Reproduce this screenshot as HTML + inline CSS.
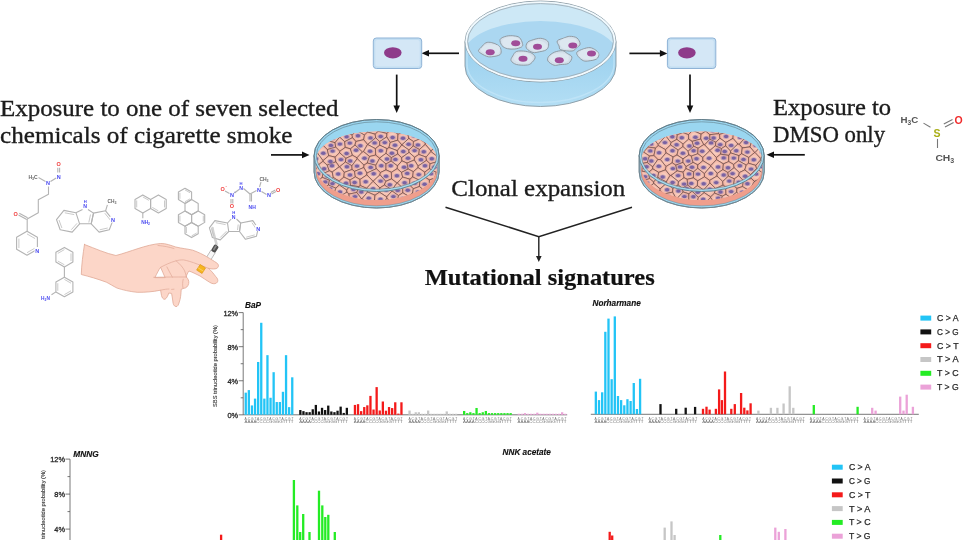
<!DOCTYPE html>
<html><head><meta charset="utf-8"><style>
html,body{margin:0;padding:0;background:#fff;width:964px;height:540px;overflow:hidden}
svg{display:block;position:absolute;left:0;top:0;will-change:transform}
</style></head><body>
<svg width="964" height="540" viewBox="0 0 964 540">
<rect width="964" height="540" fill="#ffffff"/>
<defs>
<marker id="ah" markerWidth="8" markerHeight="8" refX="7" refY="4" orient="auto" markerUnits="userSpaceOnUse"><path d="M0,0.6 L7.5,4 L0,7.4 Z" fill="#111"/></marker>
<marker id="ahs" markerWidth="6" markerHeight="6" refX="5" refY="3" orient="auto" markerUnits="userSpaceOnUse"><path d="M0,0.5 L5.5,3 L0,5.5 Z" fill="#222"/></marker>
</defs>
<line x1="459" y1="53.3" x2="428.5" y2="53.3" stroke="#111" stroke-width="1.7"/>
<path d="M421.5,53.3 L429,50 L429,56.6 Z" fill="#111"/>
<line x1="629.4" y1="53.4" x2="660.4" y2="53.4" stroke="#111" stroke-width="1.7"/>
<path d="M667.4,53.4 L659.9,56.7 L659.9,50.1 Z" fill="#111"/>
<line x1="396.7" y1="74.6" x2="396.7" y2="106" stroke="#111" stroke-width="1.7"/>
<path d="M396.7,113 L393.4,105.5 L400,105.5 Z" fill="#111"/>
<line x1="690" y1="74.6" x2="690" y2="106" stroke="#111" stroke-width="1.7"/>
<path d="M690,113 L686.7,105.5 L693.3,105.5 Z" fill="#111"/>
<line x1="271" y1="154.9" x2="302.5" y2="154.9" stroke="#111" stroke-width="1.7"/>
<path d="M309.5,154.9 L302,158.2 L302,151.6 Z" fill="#111"/>
<line x1="804.8" y1="154.8" x2="773.5" y2="154.8" stroke="#111" stroke-width="1.7"/>
<path d="M766.5,154.8 L774,151.5 L774,158.1 Z" fill="#111"/>
<polyline points="445.5,207.2 538.8,236.6 632,207.2" fill="none" stroke="#222" stroke-width="1.5"/>
<line x1="538.8" y1="236.6" x2="538.8" y2="256.5" stroke="#222" stroke-width="1.4"/>
<path d="M538.8,262 L536,256 L541.6,256 Z" fill="#222"/>
<rect x="373.3" y="38" width="48.4" height="30.5" rx="3" fill="#c3def2" stroke="#8fb3d6" stroke-width="1"/>
<rect x="375.3" y="40" width="44.4" height="26.5" rx="2" fill="#d4e7f6"/>
<ellipse cx="392.8" cy="52.8" rx="8.8" ry="5.6" fill="#8e3b8a"/>
<rect x="667.4" y="38" width="48.4" height="30.5" rx="3" fill="#c3def2" stroke="#8fb3d6" stroke-width="1"/>
<rect x="669.4" y="40" width="44.4" height="26.5" rx="2" fill="#d4e7f6"/>
<ellipse cx="686.9" cy="52.8" rx="8.8" ry="5.6" fill="#8e3b8a"/>
<linearGradient id="tdb" x1="0" y1="0" x2="0" y2="1"><stop offset="0" stop-color="#98cfee"/><stop offset="1" stop-color="#b3def4"/></linearGradient>
<path d="M465,41.5 L465,66 A75.5,40.5 0 0 0 616,66 L616,41.5 Z" fill="url(#tdb)" stroke="#8a98a2" stroke-width="0.9"/>
<path d="M467,47.5 L467,64 A73.5,38.5 0 0 0 614,64 L614,47.5" fill="none" stroke="#c2e5f7" stroke-width="1.4" opacity="0.8"/>
<ellipse cx="540.5" cy="41.5" rx="75.5" ry="40.5" fill="#cde8f6"/>
<clipPath id="tdc"><ellipse cx="540.5" cy="41.5" rx="73" ry="38"/></clipPath>
<ellipse cx="540.5" cy="55.5" rx="77.5" ry="34.5" fill="#abd7f1" clip-path="url(#tdc)"/>
<ellipse cx="540.5" cy="41.5" rx="75.5" ry="40.5" fill="none" stroke="#8a98a2" stroke-width="0.9"/>
<ellipse cx="540.5" cy="41.5" rx="74.2" ry="39.2" fill="none" stroke="#f4fafd" stroke-width="1.6"/>
<ellipse cx="540.5" cy="41.5" rx="72.9" ry="37.9" fill="none" stroke="#9aa7b0" stroke-width="0.8"/>
<path d="M500.9,49.2 C501.3,50.8 501.5,53.2 500.2,54.5 C498.9,55.7 495.3,56.3 493.1,56.6 C490.8,56.9 489,57.2 486.6,56.3 C484.2,55.4 479.5,52.9 478.6,51.4 C477.7,49.9 480.1,48.7 481.3,47.2 C482.5,45.8 484.1,43.6 485.9,42.8 C487.6,42 489.7,42.2 491.7,42.6 C493.7,43 496.2,44 497.8,45.1 C499.3,46.2 500.5,47.6 500.9,49.2Z" fill="#d3dfea" stroke="#8a949c" stroke-width="0.9"/>
<path d="M499.9,49.5 C499.7,50.8 499.2,52.8 498,53.7 C496.8,54.6 494.6,54.7 492.8,54.8 C491.1,54.9 489.2,54.9 487.3,54.3 C485.4,53.8 482.4,52.3 481.4,51.3 C480.5,50.4 480.8,49.7 481.5,48.7 C482.1,47.6 483.5,45.7 485.5,45 C487.4,44.4 490.9,44.4 493.1,44.6 C495.3,44.8 497.7,45.4 498.8,46.2 C499.9,47 500,48.3 499.9,49.5Z" fill="#dde7f0" stroke="none"/>
<ellipse cx="490.2" cy="52.3" rx="4.5" ry="3" fill="#a04c98"/>
<path d="M522.5,43.5 C522.9,45 522.9,45.9 521.6,46.9 C520.4,47.8 517.3,48.7 514.9,49 C512.6,49.3 509.5,49.2 507.4,48.7 C505.2,48.1 503.1,47.1 501.9,45.6 C500.7,44 499.4,40.8 500.2,39.3 C501,37.7 504.4,36.6 506.7,36.1 C509,35.5 511.8,35.6 513.9,35.9 C516,36.1 518.1,36.3 519.5,37.6 C520.9,38.8 522.2,41.9 522.5,43.5Z" fill="#d3dfea" stroke="#8a949c" stroke-width="0.9"/>
<path d="M520.5,42.8 C520.7,44 521.2,44.6 520.1,45.4 C519,46.2 516.3,47.5 513.9,47.8 C511.5,48.1 507.7,47.8 505.9,47.2 C504,46.6 503.4,45.6 502.9,44.4 C502.3,43.2 501.9,41.3 502.6,40.1 C503.2,39 505.1,38.1 507,37.6 C508.8,37 511.8,36.7 513.8,36.9 C515.8,37.1 517.8,37.8 518.9,38.8 C520,39.7 520.3,41.7 520.5,42.8Z" fill="#dde7f0" stroke="none"/>
<ellipse cx="515.7" cy="43.2" rx="4.5" ry="3" fill="#a04c98"/>
<path d="M548.4,46.5 C548.1,48 547.3,49.2 545.8,50.1 C544.3,51 541.5,51.4 539.4,51.8 C537.3,52.2 535.1,53.1 533,52.5 C530.8,51.9 527.4,49.8 526.4,48.2 C525.5,46.5 526.3,44.1 527.2,42.8 C528.1,41.5 529.6,40.9 531.8,40.2 C534.1,39.4 538.1,38.1 540.7,38.3 C543.4,38.5 546.4,39.8 547.6,41.1 C548.9,42.5 548.8,45 548.4,46.5Z" fill="#d3dfea" stroke="#8a949c" stroke-width="0.9"/>
<path d="M547.4,45.8 C547.7,46.9 547,47.9 545.7,48.7 C544.4,49.6 541.7,50.4 539.6,50.7 C537.5,51 535,51 533.1,50.4 C531.2,49.8 529,48.2 528.2,47.2 C527.5,46.2 527.8,45.2 528.7,44.1 C529.6,43.1 532,41.5 533.7,40.9 C535.4,40.3 537.2,40.5 538.9,40.7 C540.6,40.9 542.6,41.3 544,42.2 C545.4,43.1 547.1,44.8 547.4,45.8Z" fill="#dde7f0" stroke="none"/>
<ellipse cx="537.5" cy="46.7" rx="4.5" ry="3" fill="#a04c98"/>
<path d="M535.1,57.8 C534.9,59.4 532.4,62.2 530.9,63.5 C529.4,64.7 528.3,65 525.9,65.1 C523.5,65.3 518.9,65.2 516.4,64.5 C513.9,63.7 511.7,62.1 511.1,60.7 C510.5,59.2 511.7,57.5 512.7,56 C513.6,54.4 514.5,52.2 516.7,51.4 C518.9,50.6 523.2,51 525.7,51.3 C528.3,51.7 530.6,52.4 532.1,53.4 C533.7,54.5 535.3,56.1 535.1,57.8Z" fill="#d3dfea" stroke="#8a949c" stroke-width="0.9"/>
<path d="M532.7,58 C532.6,59.3 531.4,61.5 529.9,62.3 C528.4,63.2 525.6,63 523.7,63.1 C521.7,63.1 519.8,63.2 518.2,62.5 C516.5,61.9 514.5,60.4 513.9,59.2 C513.4,58.1 514.2,56.8 514.8,55.8 C515.5,54.8 515.9,53.8 517.6,53.2 C519.3,52.7 523,52.3 525.1,52.6 C527.1,52.8 528.8,54 530.1,54.9 C531.4,55.8 532.7,56.8 532.7,58Z" fill="#dde7f0" stroke="none"/>
<ellipse cx="523" cy="58.7" rx="4.5" ry="3" fill="#a04c98"/>
<path d="M580.1,44 C580.1,45.7 578,46.6 576.6,47.7 C575.3,48.9 574.8,50.7 572.1,51 C569.5,51.4 562.9,50.6 560.8,49.7 C558.6,48.9 559.7,47.4 559.1,46 C558.5,44.5 556.5,42.3 557.2,41 C558,39.6 561.8,38.8 563.9,38.1 C565.9,37.3 567.6,36.3 569.7,36.3 C571.9,36.3 575.3,36.7 577,38 C578.7,39.3 580.2,42.4 580.1,44Z" fill="#d3dfea" stroke="#8a949c" stroke-width="0.9"/>
<path d="M577.7,44.3 C578,45.5 578.7,45.9 577.3,46.7 C576,47.4 571.8,48.5 569.5,48.8 C567.2,49.1 565.1,49.1 563.5,48.5 C562,48 561,46.6 560.4,45.5 C559.8,44.3 559.4,42.8 560,41.7 C560.6,40.5 562.3,39.1 563.9,38.5 C565.6,38 567.9,38.4 569.8,38.6 C571.7,38.7 574.1,38.5 575.4,39.5 C576.7,40.4 577.4,43.1 577.7,44.3Z" fill="#dde7f0" stroke="none"/>
<ellipse cx="572.8" cy="45.6" rx="4.5" ry="3" fill="#a04c98"/>
<path d="M571.9,57.1 C572.1,58.8 570.4,62.2 568.5,63.4 C566.5,64.6 562.6,64.3 560.2,64.6 C557.7,64.9 556,65.8 554,65.2 C552,64.6 548.9,62.6 548,61.1 C547.1,59.6 547.6,57.9 548.7,56.4 C549.8,55 552.1,53.2 554.4,52.2 C556.7,51.3 560.3,50.5 562.4,50.7 C564.6,50.9 565.7,52.5 567.3,53.5 C568.9,54.6 571.8,55.5 571.9,57.1Z" fill="#d3dfea" stroke="#8a949c" stroke-width="0.9"/>
<path d="M568.7,57.4 C568.7,58.4 568.9,60 567.5,61 C566.1,62 562.7,63.1 560.4,63.4 C558.2,63.7 555.9,63.4 554.2,62.7 C552.4,62 550.4,60.4 549.9,59.3 C549.4,58.2 550.2,56.7 550.9,55.8 C551.6,54.9 552.1,54.4 553.9,54 C555.7,53.6 559.4,53.1 561.7,53.2 C564,53.3 566.5,54.1 567.6,54.8 C568.8,55.5 568.7,56.3 568.7,57.4Z" fill="#dde7f0" stroke="none"/>
<ellipse cx="559.3" cy="60.2" rx="4.5" ry="3" fill="#a04c98"/>
<path d="M598.8,54.5 C598.9,55.9 598.2,57.9 596.6,59 C594.9,60 591.1,60.6 588.9,60.9 C586.7,61.2 585.1,61.4 583.4,60.7 C581.6,60 579.4,58 578.3,56.6 C577.2,55.2 576.1,53.4 576.9,52.2 C577.7,50.9 580.9,49.8 583.1,49 C585.3,48.2 587.8,47.4 590,47.6 C592.1,47.8 594.5,49.2 596,50.3 C597.5,51.5 598.7,53 598.8,54.5Z" fill="#d3dfea" stroke="#8a949c" stroke-width="0.9"/>
<path d="M598.6,54 C598.6,55.3 596.9,57.6 595.4,58.5 C593.8,59.5 591.3,59.6 589.2,59.6 C587.1,59.6 584.3,59.1 582.6,58.5 C580.9,57.9 579.6,57.1 579.1,56.1 C578.6,55.1 578.9,53.8 579.6,52.7 C580.2,51.7 581.3,50.4 583,49.8 C584.6,49.3 587.3,49.1 589.3,49.3 C591.4,49.4 593.6,50.1 595.2,50.9 C596.7,51.7 598.5,52.7 598.6,54Z" fill="#dde7f0" stroke="none"/>
<ellipse cx="591.5" cy="53.5" rx="4.5" ry="3" fill="#a04c98"/>
<radialGradient id="cg3" cx="0.5" cy="0.5" r="0.6"><stop offset="0.3" stop-color="#f9cdbd"/><stop offset="1" stop-color="#eea493"/></radialGradient>
<path d="M314.1,155.5 L314.1,172 A62.5,36 0 0 0 439.1,172 L439.1,155.5 Z" fill="#9ad6ef" stroke="#6f8590" stroke-width="0.9"/>
<path d="M315.7,155.5 L315.7,171.5 A60.9,34.4 0 0 0 437.5,171.5 L437.5,155.5 Z" fill="#ef9e8c" stroke="#6f8590" stroke-width="0.5"/>
<ellipse cx="376.6" cy="155.5" rx="62.5" ry="36" fill="#9ad6f0" stroke="#6f8590" stroke-width="0.9"/>
<clipPath id="ld3"><path d="M316.6,158.5 A60,27 0 0 1 436.6,158.5 L437.1,166.5 A60.5,33.5 0 0 1 316.1,166.5 Z"/></clipPath>
<g clip-path="url(#ld3)">
<rect x="314.1" y="119.5" width="125" height="92" fill="#f3b1a1"/>
<g fill="url(#cg3)" stroke="#5e4444" stroke-width="0.6" stroke-linejoin="round">
<path d="M323.6,129 L316.4,122.4 L317,119.8 L323.4,115.6 L329.6,122.1 L329.7,122.6Z"/>
<path d="M342.2,124 L335.3,127.7 L329.7,122.6 L329.6,122.1 L335.5,116.9 L342.6,117.8Z"/>
<path d="M345.8,127.4 L353.1,124.4 L351.1,118.3 L343.2,117.2 L342.6,117.8 L342.2,124Z"/>
<path d="M353.1,124.4 L356.1,126.1 L362.4,122.5 L362.9,119.3 L354.6,114.3 L351.1,118.3Z"/>
<path d="M373.6,118.2 L367.5,114.2 L362.9,119.3 L362.4,122.5 L367.3,127.1 L374.3,123.3Z"/>
<path d="M380.3,114.5 L373.6,118.2 L374.3,123.3 L377.8,125.7 L384.5,122.1 L384.7,119.6Z"/>
<path d="M384.7,119.6 L384.5,122.1 L390.9,129.2 L395.8,123 L395.6,119.1 L390.1,116.4Z"/>
<path d="M406.8,123.3 L407.4,119.6 L400.3,114.1 L395.6,119.1 L395.8,123 L404.4,125.3Z"/>
<path d="M414.5,128.2 L419.4,122.7 L419,120.3 L412,116.4 L407.4,119.6 L406.8,123.3Z"/>
<path d="M419,120.3 L424.2,114.2 L430.2,117.8 L429.9,122.2 L425.3,126.1 L419.4,122.7Z"/>
<path d="M429.9,122.2 L435.3,125.7 L440.5,122.1 L440.3,119.8 L435.7,114.9 L430.2,117.8Z"/>
<path d="M323.6,129 L316.4,122.4 L311.9,125.9 L311.6,129.5 L315.8,134.1 L323.4,130.7Z"/>
<path d="M335.3,127.7 L329.7,122.6 L323.6,129 L323.4,130.7 L327.2,135.5 L335.4,132.6Z"/>
<path d="M345.8,127.4 L345.8,131.6 L339.5,136.5 L335.4,132.6 L335.3,127.7 L342.2,124Z"/>
<path d="M352.2,135.2 L345.8,131.6 L345.8,127.4 L353.1,124.4 L356.1,126.1 L356.2,130.3Z"/>
<path d="M356.2,130.3 L356.1,126.1 L362.4,122.5 L367.3,127.1 L367.5,132.1 L364.5,135.1Z"/>
<path d="M375.2,134.2 L378.2,131.3 L377.8,125.7 L374.3,123.3 L367.3,127.1 L367.5,132.1Z"/>
<path d="M384.5,122.1 L390.9,129.2 L390.9,129.5 L387,133.5 L378.2,131.3 L377.8,125.7Z"/>
<path d="M404.4,125.3 L395.8,123 L390.9,129.2 L390.9,129.5 L398,134.2 L403.3,132.1Z"/>
<path d="M414.6,130.3 L408.2,135.4 L403.3,132.1 L404.4,125.3 L406.8,123.3 L414.5,128.2Z"/>
<path d="M414.6,130.3 L419.5,134.4 L425.8,129.8 L425.3,126.1 L419.4,122.7 L414.5,128.2Z"/>
<path d="M429.9,122.2 L425.3,126.1 L425.8,129.8 L430.4,133.1 L435,131.6 L435.3,125.7Z"/>
<path d="M440.5,122.1 L448.8,129 L441.8,135.1 L435,131.6 L435.3,125.7Z"/>
<path d="M323.4,130.7 L315.8,134.1 L315.2,138.2 L323.1,144.4 L326.5,140.5 L327.2,135.5Z"/>
<path d="M335.4,132.6 L327.2,135.5 L326.5,140.5 L335.1,142.7 L339.6,137.1 L339.5,136.5Z"/>
<path d="M352.5,137.7 L344.7,141.7 L339.6,137.1 L339.5,136.5 L345.8,131.6 L352.2,135.2Z"/>
<path d="M363.7,139.7 L364.5,135.1 L356.2,130.3 L352.2,135.2 L352.5,137.7 L355.9,141.5Z"/>
<path d="M363.7,139.7 L364.5,135.1 L367.5,132.1 L375.2,134.2 L375.7,137.8 L367.6,144.5 L367.5,144.5Z"/>
<path d="M375.7,137.8 L379.7,141.6 L386.7,136.9 L387,133.5 L378.2,131.3 L375.2,134.2Z"/>
<path d="M390.9,129.5 L398,134.2 L397.7,140.2 L390.2,142.5 L386.7,136.9 L387,133.5Z"/>
<path d="M408.2,135.4 L408.8,138.4 L401.8,144.9 L401.8,144.9 L397.7,140.2 L398,134.2 L403.3,132.1Z"/>
<path d="M414.6,130.3 L419.5,134.4 L419.8,138.9 L413.5,141.6 L408.8,138.4 L408.2,135.4Z"/>
<path d="M419.8,138.9 L425.3,143 L429.1,139.6 L430.4,133.1 L425.8,129.8 L419.5,134.4Z"/>
<path d="M430.4,133.1 L435,131.6 L441.8,135.1 L441.8,135.3 L435.7,141.3 L429.1,139.6Z"/>
<path d="M323.1,144.4 L315.2,138.2 L311.5,140.3 L311.7,148.6 L316.3,151.4 L323.1,145.4Z"/>
<path d="M335.1,142.7 L326.5,140.5 L323.1,144.4 L323.1,145.4 L327.3,149.6 L335.7,147.1Z"/>
<path d="M344.7,141.7 L339.6,137.1 L335.1,142.7 L335.7,147.1 L339.8,151.3 L345.3,147.4Z"/>
<path d="M355,145 L355.9,141.5 L352.5,137.7 L344.7,141.7 L345.3,147.4 L350.4,148.9Z"/>
<path d="M355,145 L355.9,141.5 L363.7,139.7 L367.5,144.5 L363.5,151.6 L362.4,152Z"/>
<path d="M367.6,144.5 L375.4,148.7 L379.8,145.2 L379.7,141.6 L375.7,137.8Z"/>
<path d="M379.7,141.6 L386.7,136.9 L390.2,142.5 L389,147.5 L387.1,148.7 L379.8,145.2Z"/>
<path d="M397.3,150.7 L401.8,144.9 L397.7,140.2 L390.2,142.5 L389,147.5Z"/>
<path d="M413.5,141.6 L413.2,146 L408.9,150 L401.8,144.9 L408.8,138.4Z"/>
<path d="M419.8,138.9 L425.3,143 L425.3,144.4 L419.4,149.5 L413.2,146 L413.5,141.6Z"/>
<path d="M425.3,143 L425.3,144.4 L430.9,150.9 L436.8,146.3 L435.7,141.3 L429.1,139.6Z"/>
<path d="M436.8,146.3 L444.6,147.7 L446.6,145.8 L441.8,135.3 L435.7,141.3Z"/>
<path d="M323,160.7 L316.4,151.6 L316.3,151.4 L323.1,145.4 L327.3,149.6 L328.8,155.7Z"/>
<path d="M335.1,157.1 L328.8,155.7 L327.3,149.6 L335.7,147.1 L339.8,151.3 L339.6,152.7Z"/>
<path d="M350.4,148.9 L345.3,147.4 L339.8,151.3 L339.6,152.7 L345.9,158.4 L352.5,155.3Z"/>
<path d="M355,145 L362.4,152 L357,157.8 L352.5,155.3 L350.4,148.9Z"/>
<path d="M367.5,144.5 L367.6,144.5 L375.4,148.7 L375.7,155.1 L369.6,156.5 L363.5,151.6Z"/>
<path d="M375.4,148.7 L379.8,145.2 L387.1,148.7 L386,153.3 L379.5,158.2 L375.7,155.1Z"/>
<path d="M397.3,150.7 L389,147.5 L387.1,148.7 L386,153.3 L391.3,157.7 L397.8,154Z"/>
<path d="M401.8,144.9 L401.8,144.9 L397.3,150.7 L397.8,154 L401.6,157.7 L409.1,152.4 L408.9,150Z"/>
<path d="M413.2,146 L419.4,149.5 L418.8,154.5 L414.6,157.3 L409.1,152.4 L408.9,150Z"/>
<path d="M426.1,157.1 L418.8,154.5 L419.4,149.5 L425.3,144.4 L430.9,150.9 L430.9,151.6Z"/>
<path d="M438.3,157.3 L443.1,154.4 L444.6,147.7 L436.8,146.3 L430.9,150.9 L430.9,151.6Z"/>
<path d="M312.5,163.5 L312.1,157 L316.4,151.6 L323,160.7 L322.9,161.3 L317.4,165.8Z"/>
<path d="M335.9,161.8 L327.2,165.1 L322.9,161.3 L323,160.7 L328.8,155.7 L335.1,157.1Z"/>
<path d="M339.3,166.8 L335.9,161.8 L335.1,157.1 L339.6,152.7 L345.9,158.4 L345.4,162 L339.6,166.8Z"/>
<path d="M352.5,155.3 L345.9,158.4 L345.4,162 L351.9,165.8 L357.2,158.7 L357,157.8Z"/>
<path d="M362.4,152 L363.5,151.6 L369.6,156.5 L367.2,163 L364,165.2 L357.2,158.7 L357,157.8Z"/>
<path d="M367.2,163 L375.8,165.3 L379.5,158.5 L379.5,158.2 L375.7,155.1 L369.6,156.5Z"/>
<path d="M379.5,158.5 L379.5,158.2 L386,153.3 L391.3,157.7 L391.1,161.1 L386,164Z"/>
<path d="M397.5,165.9 L391.1,161.1 L391.3,157.7 L397.8,154 L401.6,157.7 L401.9,160.9Z"/>
<path d="M407,163.1 L414.3,160 L414.6,157.3 L409.1,152.4 L401.6,157.7 L401.9,160.9Z"/>
<path d="M418.1,166.1 L414.3,160 L414.6,157.3 L418.8,154.5 L426.1,157.1 L426.5,160.4Z"/>
<path d="M437.7,161.5 L438.3,157.3 L430.9,151.6 L426.1,157.1 L426.5,160.4 L430.1,163.8Z"/>
<path d="M323.1,173.7 L329.4,170.8 L327.2,165.1 L322.9,161.3 L317.4,165.8 L317.5,167Z"/>
<path d="M339.3,166.8 L335.9,161.8 L327.2,165.1 L329.4,170.8 L332.2,172Z"/>
<path d="M339.6,166.8 L345.4,162 L351.9,165.8 L352.1,169.5 L344.3,172.4Z"/>
<path d="M357.2,158.7 L351.9,165.8 L352.1,169.5 L354.5,171.4 L363.8,167.5 L364,165.2Z"/>
<path d="M364,165.2 L363.8,167.5 L366.9,173.1 L376.3,168.7 L375.8,165.3 L367.2,163Z"/>
<path d="M380.4,172.5 L376.3,168.7 L375.8,165.3 L379.5,158.5 L386,164 L386,169.9Z"/>
<path d="M397.2,168.7 L397.5,165.9 L391.1,161.1 L386,164 L386,169.9 L391.4,172.3Z"/>
<path d="M408.2,169 L407,163.1 L401.9,160.9 L397.5,165.9 L397.2,168.7 L401.5,172.4Z"/>
<path d="M413.3,171.7 L418.1,167.6 L418.1,166.1 L414.3,160 L407,163.1 L408.2,169Z"/>
<path d="M429.4,168.7 L430.1,163.8 L426.5,160.4 L418.1,166.1 L418.1,167.6 L424.7,172.2Z"/>
<path d="M436.3,172.4 L440.8,169.5 L440.9,166.4 L437.7,161.5 L430.1,163.8 L429.4,168.7Z"/>
<path d="M312.4,174.6 L317.5,167 L323.1,173.7 L322.2,177.4 L317.9,181.3 L312.5,176.6Z"/>
<path d="M329.5,180.3 L322.2,177.4 L323.1,173.7 L329.4,170.8 L332.2,172 L333.4,177.6Z"/>
<path d="M339.2,181.1 L343.9,177.1 L344.3,172.4 L339.6,166.8 L339.3,166.8 L332.2,172 L333.4,177.6Z"/>
<path d="M344.3,172.4 L352.1,169.5 L354.5,171.4 L355.4,176.8 L350,180.1 L343.9,177.1Z"/>
<path d="M366.9,173.1 L363.8,167.5 L354.5,171.4 L355.4,176.8 L360,179.5 L366.8,174.9Z"/>
<path d="M380.4,172.5 L376.3,168.7 L366.9,173.1 L366.8,174.9 L373.1,181.3 L380,174.8Z"/>
<path d="M391.4,172.3 L386,169.9 L380.4,172.5 L380,174.8 L385.8,181.4 L391.6,178.9Z"/>
<path d="M401.5,172.4 L397.2,168.7 L391.4,172.3 L391.6,178.9 L396.9,183.1 L397.3,183.1 L402.7,177.1Z"/>
<path d="M409.9,179.2 L402.7,177.1 L401.5,172.4 L408.2,169 L413.3,171.7 L412.7,177Z"/>
<path d="M412.7,177 L419.9,180.5 L425.1,177.3 L424.7,172.2 L418.1,167.6 L413.3,171.7Z"/>
<path d="M434.7,178.2 L429.4,179.9 L425.1,177.3 L424.7,172.2 L429.4,168.7 L436.3,172.4Z"/>
<path d="M434.7,178.2 L439.7,182 L449.1,176.4 L440.8,169.5 L436.3,172.4Z"/>
<path d="M329.5,180.3 L322.2,177.4 L317.9,181.3 L317.9,182.9 L324,188 L328.4,185Z"/>
<path d="M339.3,185 L339.2,181.1 L333.4,177.6 L329.5,180.3 L328.4,185 L335.8,188.2Z"/>
<path d="M339.3,185 L346.7,190.1 L350.5,185.4 L350,180.1 L343.9,177.1 L339.2,181.1Z"/>
<path d="M350.5,185.4 L350,180.1 L355.4,176.8 L360,179.5 L360.3,185.6 L358.8,186.7Z"/>
<path d="M366.6,188.3 L360.3,185.6 L360,179.5 L366.8,174.9 L373.1,181.3 L373.1,181.3Z"/>
<path d="M379.9,187.9 L373.1,181.3 L373.1,181.3 L380,174.8 L385.8,181.4 L384.4,185.1Z"/>
<path d="M391.6,178.9 L385.8,181.4 L384.4,185.1 L392,189.9 L396.9,183.1Z"/>
<path d="M409.9,179.2 L409.5,185 L402.7,188 L397.3,183.1 L402.7,177.1Z"/>
<path d="M409.9,179.2 L409.5,185 L413.3,188.8 L419.4,186.5 L419.9,180.5 L412.7,177Z"/>
<path d="M429.4,179.9 L429.5,186.5 L424.6,190.9 L419.4,186.5 L419.9,180.5 L425.1,177.3Z"/>
<path d="M434.7,178.2 L439.7,182 L439.6,185.8 L437.4,189.7 L429.5,186.5 L429.4,179.9Z"/>
<path d="M318.1,195.9 L312.6,193.3 L312.7,188.1 L317.9,182.9 L324,188 L324.5,192.2Z"/>
<path d="M335.8,188.2 L334.2,193.5 L328,194.8 L324.5,192.2 L324,188 L328.4,185Z"/>
<path d="M339.3,185 L346.7,190.1 L347,192.1 L338.1,197.5 L334.2,193.5 L335.8,188.2Z"/>
<path d="M346.7,190.1 L350.5,185.4 L358.8,186.7 L356.8,192.5 L348.9,194.1 L347,192.1Z"/>
<path d="M367.6,192 L361.8,199 L361.6,199.1 L356.8,192.5 L358.8,186.7 L360.3,185.6 L366.6,188.3Z"/>
<path d="M379.4,192.2 L375,195.3 L367.6,192 L366.6,188.3 L373.1,181.3 L379.9,187.9Z"/>
<path d="M386.7,196.9 L379.4,192.2 L379.9,187.9 L384.4,185.1 L392,189.9 L392,191Z"/>
<path d="M397.3,183.1 L402.7,188 L402.8,192.8 L398.5,195.6 L392,191 L392,189.9 L396.9,183.1Z"/>
<path d="M412.6,193.1 L413.3,188.8 L409.5,185 L402.7,188 L402.8,192.8 L408.5,196.2Z"/>
<path d="M419.8,197.4 L412.6,193.1 L413.3,188.8 L419.4,186.5 L424.6,190.9 L424.7,192.9Z"/>
<path d="M424.7,192.9 L424.6,190.9 L429.5,186.5 L437.4,189.7 L437.8,192.1 L430.2,197.2Z"/>
<path d="M318.7,200.4 L310.6,203.3 L307.2,197.4 L312.6,193.3 L318.1,195.9Z"/>
<path d="M321.4,204.1 L327.6,200 L328,194.8 L324.5,192.2 L318.1,195.9 L318.7,200.4Z"/>
<path d="M327.6,200 L333.6,205.5 L338.3,200.4 L338.1,197.5 L334.2,193.5 L328,194.8Z"/>
<path d="M347,192.1 L338.1,197.5 L338.3,200.4 L346.5,204.5 L349.9,200.3 L348.9,194.1Z"/>
<path d="M361.6,199.1 L356.8,192.5 L348.9,194.1 L349.9,200.3 L358.7,202.2Z"/>
<path d="M367.6,192 L361.8,199 L370,203.7 L374.5,200.1 L375,195.3Z"/>
<path d="M386.7,196.9 L379.4,192.2 L375,195.3 L374.5,200.1 L380.4,204.7 L387,198.5Z"/>
<path d="M392.7,203.6 L387,198.5 L386.7,196.9 L392,191 L398.5,195.6 L397.4,201.1Z"/>
<path d="M408.5,196.2 L402.8,192.8 L398.5,195.6 L397.4,201.1 L402,203.3 L408.6,200.5Z"/>
<path d="M419.8,197.4 L412.6,193.1 L408.5,196.2 L408.6,200.5 L412.7,205 L414.9,205.1 L419.6,199.1Z"/>
<path d="M419.8,197.4 L424.7,192.9 L430.2,197.2 L430.7,201.1 L426.1,203.9 L419.6,199.1Z"/>
<path d="M430.2,197.2 L437.8,192.1 L441.8,195.8 L442.5,200.6 L434.3,203.9 L430.7,201.1Z"/>
<path d="M321.4,204.1 L321.1,208.5 L318,210.6 L310.8,208.3 L310.6,203.3 L318.7,200.4Z"/>
<path d="M321.4,204.1 L321.1,208.5 L328,211 L333.5,207.2 L333.6,205.5 L327.6,200Z"/>
<path d="M333.5,207.2 L338.4,211.4 L346.6,207.9 L346.5,204.5 L338.3,200.4 L333.6,205.5Z"/>
<path d="M358.9,209.1 L350.2,212.3 L346.6,207.9 L346.5,204.5 L349.9,200.3 L358.7,202.2Z"/>
<path d="M370,203.7 L361.8,199 L361.6,199.1 L358.7,202.2 L358.9,209.1 L363.3,212.7 L369.8,206.9Z"/>
<path d="M380.4,204.7 L374.5,200.1 L370,203.7 L369.8,206.9 L373.8,209.9 L380.7,207.6Z"/>
<path d="M392.7,203.6 L392,208.1 L383.6,211.2 L380.7,207.6 L380.4,204.7 L387,198.5Z"/>
<path d="M392.7,203.6 L392,208.1 L395.7,212.9 L402.7,209.2 L402,203.3 L397.4,201.1Z"/>
<path d="M408.6,200.5 L402,203.3 L402.7,209.2 L407.6,211.5 L412.7,205Z"/>
<path d="M419.6,199.1 L414.9,205.1 L419.8,210.5 L424.1,209.6 L426.1,203.9Z"/>
<path d="M430.7,201.1 L434.3,203.9 L434.3,209.4 L430.8,213.6 L424.1,209.6 L426.1,203.9Z"/>
<path d="M434.3,209.4 L442.3,211.2 L448.8,206.2 L442.5,200.6 L434.3,203.9Z"/>
</g><g fill="#a58ab0" opacity="0.55">
<ellipse cx="322.5" cy="122.9" rx="3.3" ry="2.5"/>
<ellipse cx="336.8" cy="121.9" rx="3.3" ry="2.5"/>
<ellipse cx="347.7" cy="122.5" rx="3.3" ry="2.5"/>
<ellipse cx="356.3" cy="119.7" rx="3.3" ry="2.5"/>
<ellipse cx="369" cy="121.4" rx="3.3" ry="2.5"/>
<ellipse cx="378.8" cy="120.2" rx="3.3" ry="2.5"/>
<ellipse cx="390.4" cy="121.1" rx="3.3" ry="2.5"/>
<ellipse cx="401" cy="120.4" rx="3.3" ry="2.5"/>
<ellipse cx="413.2" cy="122.6" rx="3.3" ry="2.5"/>
<ellipse cx="425.2" cy="120.4" rx="3.3" ry="2.5"/>
<ellipse cx="434.9" cy="121" rx="3.3" ry="2.5"/>
<ellipse cx="317.3" cy="128.4" rx="3.3" ry="2.5"/>
<ellipse cx="329.8" cy="129.8" rx="3.3" ry="2.5"/>
<ellipse cx="341" cy="129.6" rx="3.3" ry="2.5"/>
<ellipse cx="350.6" cy="129.5" rx="3.3" ry="2.5"/>
<ellipse cx="361.8" cy="129.2" rx="3.3" ry="2.5"/>
<ellipse cx="373" cy="128.7" rx="3.3" ry="2.5"/>
<ellipse cx="382.9" cy="127.9" rx="3.3" ry="2.5"/>
<ellipse cx="399" cy="127.9" rx="3.3" ry="2.5"/>
<ellipse cx="408.8" cy="129.5" rx="3.3" ry="2.5"/>
<ellipse cx="420.3" cy="128.8" rx="3.3" ry="2.5"/>
<ellipse cx="430.9" cy="127.3" rx="3.3" ry="2.5"/>
<ellipse cx="439.5" cy="127.8" rx="3.3" ry="2.5"/>
<ellipse cx="321.1" cy="136.8" rx="3.3" ry="2.5"/>
<ellipse cx="332.7" cy="138.3" rx="3.3" ry="2.5"/>
<ellipse cx="346.6" cy="136.8" rx="3.3" ry="2.5"/>
<ellipse cx="358" cy="135.7" rx="3.3" ry="2.5"/>
<ellipse cx="370.5" cy="137.9" rx="3.3" ry="2.5"/>
<ellipse cx="380.7" cy="136.5" rx="3.3" ry="2.5"/>
<ellipse cx="392.6" cy="137.5" rx="3.3" ry="2.5"/>
<ellipse cx="403" cy="138.2" rx="3.3" ry="2.5"/>
<ellipse cx="414.1" cy="136.1" rx="3.3" ry="2.5"/>
<ellipse cx="425" cy="135.4" rx="3.3" ry="2.5"/>
<ellipse cx="434.4" cy="137.5" rx="3.3" ry="2.5"/>
<ellipse cx="315.3" cy="144.3" rx="3.3" ry="2.5"/>
<ellipse cx="330.9" cy="145.4" rx="3.3" ry="2.5"/>
<ellipse cx="339.9" cy="144.1" rx="3.3" ry="2.5"/>
<ellipse cx="349.8" cy="143.1" rx="3.3" ry="2.5"/>
<ellipse cx="360.4" cy="145.8" rx="3.3" ry="2.5"/>
<ellipse cx="374.6" cy="142.9" rx="3.3" ry="2.5"/>
<ellipse cx="384.8" cy="142.6" rx="3.3" ry="2.5"/>
<ellipse cx="395" cy="145.2" rx="3.3" ry="2.5"/>
<ellipse cx="408.6" cy="144.2" rx="3.3" ry="2.5"/>
<ellipse cx="417.9" cy="144.9" rx="3.3" ry="2.5"/>
<ellipse cx="432.8" cy="144.1" rx="3.3" ry="2.5"/>
<ellipse cx="439.5" cy="142.6" rx="3.3" ry="2.5"/>
<ellipse cx="323.3" cy="153.3" rx="3.3" ry="2.5"/>
<ellipse cx="332.6" cy="151.1" rx="3.3" ry="2.5"/>
<ellipse cx="346.6" cy="153.5" rx="3.3" ry="2.5"/>
<ellipse cx="356.1" cy="150.3" rx="3.3" ry="2.5"/>
<ellipse cx="370.1" cy="151.2" rx="3.3" ry="2.5"/>
<ellipse cx="380.8" cy="150.7" rx="3.3" ry="2.5"/>
<ellipse cx="391.9" cy="153.3" rx="3.3" ry="2.5"/>
<ellipse cx="403.3" cy="151.5" rx="3.3" ry="2.5"/>
<ellipse cx="414.6" cy="150.6" rx="3.3" ry="2.5"/>
<ellipse cx="423.8" cy="151.7" rx="3.3" ry="2.5"/>
<ellipse cx="438" cy="150.7" rx="3.3" ry="2.5"/>
<ellipse cx="315.9" cy="158.7" rx="3.3" ry="2.5"/>
<ellipse cx="330.4" cy="161.5" rx="3.3" ry="2.5"/>
<ellipse cx="341" cy="159.6" rx="3.3" ry="2.5"/>
<ellipse cx="350.2" cy="161" rx="3.3" ry="2.5"/>
<ellipse cx="364.5" cy="158.2" rx="3.3" ry="2.5"/>
<ellipse cx="372.4" cy="161" rx="3.3" ry="2.5"/>
<ellipse cx="387" cy="159" rx="3.3" ry="2.5"/>
<ellipse cx="395.4" cy="159.4" rx="3.3" ry="2.5"/>
<ellipse cx="408" cy="158.2" rx="3.3" ry="2.5"/>
<ellipse cx="420.9" cy="159.8" rx="3.3" ry="2.5"/>
<ellipse cx="431.8" cy="158.7" rx="3.3" ry="2.5"/>
<ellipse cx="324.1" cy="168.7" rx="3.3" ry="2.5"/>
<ellipse cx="332" cy="165.7" rx="3.3" ry="2.5"/>
<ellipse cx="346.9" cy="166.7" rx="3.3" ry="2.5"/>
<ellipse cx="357" cy="166.1" rx="3.3" ry="2.5"/>
<ellipse cx="370.7" cy="167.4" rx="3.3" ry="2.5"/>
<ellipse cx="381.3" cy="165.8" rx="3.3" ry="2.5"/>
<ellipse cx="390.7" cy="165.7" rx="3.3" ry="2.5"/>
<ellipse cx="404.1" cy="167.2" rx="3.3" ry="2.5"/>
<ellipse cx="411.2" cy="165.8" rx="3.3" ry="2.5"/>
<ellipse cx="425" cy="165.8" rx="3.3" ry="2.5"/>
<ellipse cx="434.4" cy="167.2" rx="3.3" ry="2.5"/>
<ellipse cx="318" cy="173.8" rx="3.3" ry="2.5"/>
<ellipse cx="327.5" cy="176.2" rx="3.3" ry="2.5"/>
<ellipse cx="338.2" cy="174" rx="3.3" ry="2.5"/>
<ellipse cx="350" cy="175" rx="3.3" ry="2.5"/>
<ellipse cx="360" cy="173.3" rx="3.3" ry="2.5"/>
<ellipse cx="373.7" cy="173.8" rx="3.3" ry="2.5"/>
<ellipse cx="386.1" cy="176.2" rx="3.3" ry="2.5"/>
<ellipse cx="396.9" cy="175.8" rx="3.3" ry="2.5"/>
<ellipse cx="407.2" cy="173.4" rx="3.3" ry="2.5"/>
<ellipse cx="418.8" cy="174.6" rx="3.3" ry="2.5"/>
<ellipse cx="430.9" cy="173.7" rx="3.3" ry="2.5"/>
<ellipse cx="440.3" cy="176.3" rx="3.3" ry="2.5"/>
<ellipse cx="325.3" cy="181.9" rx="3.3" ry="2.5"/>
<ellipse cx="332.5" cy="183.6" rx="3.3" ry="2.5"/>
<ellipse cx="346" cy="183.2" rx="3.3" ry="2.5"/>
<ellipse cx="354.6" cy="182.5" rx="3.3" ry="2.5"/>
<ellipse cx="365.7" cy="181.8" rx="3.3" ry="2.5"/>
<ellipse cx="380.6" cy="181.1" rx="3.3" ry="2.5"/>
<ellipse cx="389.8" cy="184.7" rx="3.3" ry="2.5"/>
<ellipse cx="404.6" cy="182.7" rx="3.3" ry="2.5"/>
<ellipse cx="414.7" cy="183.3" rx="3.3" ry="2.5"/>
<ellipse cx="424.6" cy="184.2" rx="3.3" ry="2.5"/>
<ellipse cx="434.3" cy="184" rx="3.3" ry="2.5"/>
<ellipse cx="318.3" cy="190.3" rx="3.3" ry="2.5"/>
<ellipse cx="330.2" cy="189" rx="3.3" ry="2.5"/>
<ellipse cx="340" cy="191.9" rx="3.3" ry="2.5"/>
<ellipse cx="353.5" cy="189.4" rx="3.3" ry="2.5"/>
<ellipse cx="361.3" cy="192" rx="3.3" ry="2.5"/>
<ellipse cx="373.1" cy="188.8" rx="3.3" ry="2.5"/>
<ellipse cx="386.3" cy="190.2" rx="3.3" ry="2.5"/>
<ellipse cx="397.7" cy="190.4" rx="3.3" ry="2.5"/>
<ellipse cx="407.8" cy="190.2" rx="3.3" ry="2.5"/>
<ellipse cx="418" cy="192" rx="3.3" ry="2.5"/>
<ellipse cx="431.3" cy="191.6" rx="3.3" ry="2.5"/>
<ellipse cx="313.9" cy="199.6" rx="3.3" ry="2.5"/>
<ellipse cx="323.1" cy="198.5" rx="3.3" ry="2.5"/>
<ellipse cx="332.3" cy="199.2" rx="3.3" ry="2.5"/>
<ellipse cx="344" cy="198.3" rx="3.3" ry="2.5"/>
<ellipse cx="355" cy="196.6" rx="3.3" ry="2.5"/>
<ellipse cx="368.8" cy="198.2" rx="3.3" ry="2.5"/>
<ellipse cx="380.5" cy="199.3" rx="3.3" ry="2.5"/>
<ellipse cx="393.4" cy="196.6" rx="3.3" ry="2.5"/>
<ellipse cx="402.8" cy="198.5" rx="3.3" ry="2.5"/>
<ellipse cx="414.2" cy="198.4" rx="3.3" ry="2.5"/>
<ellipse cx="425" cy="199.6" rx="3.3" ry="2.5"/>
<ellipse cx="435.8" cy="198.3" rx="3.3" ry="2.5"/>
<ellipse cx="315.5" cy="204" rx="3.3" ry="2.5"/>
<ellipse cx="327.2" cy="204.8" rx="3.3" ry="2.5"/>
<ellipse cx="340.1" cy="206.2" rx="3.3" ry="2.5"/>
<ellipse cx="353" cy="205.8" rx="3.3" ry="2.5"/>
<ellipse cx="364.6" cy="205.5" rx="3.3" ry="2.5"/>
<ellipse cx="375.2" cy="206.1" rx="3.3" ry="2.5"/>
<ellipse cx="385.8" cy="205" rx="3.3" ry="2.5"/>
<ellipse cx="398.8" cy="206.9" rx="3.3" ry="2.5"/>
<ellipse cx="406" cy="206" rx="3.3" ry="2.5"/>
<ellipse cx="421.7" cy="204.2" rx="3.3" ry="2.5"/>
<ellipse cx="429.4" cy="206.8" rx="3.3" ry="2.5"/>
<ellipse cx="439.3" cy="206.8" rx="3.3" ry="2.5"/>
</g><g fill="#7a62a2">
<ellipse cx="322.5" cy="122.9" rx="2.2" ry="1.7"/>
<ellipse cx="336.8" cy="121.9" rx="2.2" ry="1.7"/>
<ellipse cx="347.7" cy="122.5" rx="2.2" ry="1.7"/>
<ellipse cx="356.3" cy="119.7" rx="2.2" ry="1.7"/>
<ellipse cx="369" cy="121.4" rx="2.2" ry="1.7"/>
<ellipse cx="378.8" cy="120.2" rx="2.2" ry="1.7"/>
<ellipse cx="390.4" cy="121.1" rx="2.2" ry="1.7"/>
<ellipse cx="401" cy="120.4" rx="2.2" ry="1.7"/>
<ellipse cx="413.2" cy="122.6" rx="2.2" ry="1.7"/>
<ellipse cx="425.2" cy="120.4" rx="2.2" ry="1.7"/>
<ellipse cx="434.9" cy="121" rx="2.2" ry="1.7"/>
<ellipse cx="317.3" cy="128.4" rx="2.2" ry="1.7"/>
<ellipse cx="329.8" cy="129.8" rx="2.2" ry="1.7"/>
<ellipse cx="341" cy="129.6" rx="2.2" ry="1.7"/>
<ellipse cx="350.6" cy="129.5" rx="2.2" ry="1.7"/>
<ellipse cx="361.8" cy="129.2" rx="2.2" ry="1.7"/>
<ellipse cx="373" cy="128.7" rx="2.2" ry="1.7"/>
<ellipse cx="382.9" cy="127.9" rx="2.2" ry="1.7"/>
<ellipse cx="399" cy="127.9" rx="2.2" ry="1.7"/>
<ellipse cx="408.8" cy="129.5" rx="2.2" ry="1.7"/>
<ellipse cx="420.3" cy="128.8" rx="2.2" ry="1.7"/>
<ellipse cx="430.9" cy="127.3" rx="2.2" ry="1.7"/>
<ellipse cx="439.5" cy="127.8" rx="2.2" ry="1.7"/>
<ellipse cx="321.1" cy="136.8" rx="2.2" ry="1.7"/>
<ellipse cx="332.7" cy="138.3" rx="2.2" ry="1.7"/>
<ellipse cx="346.6" cy="136.8" rx="2.2" ry="1.7"/>
<ellipse cx="358" cy="135.7" rx="2.2" ry="1.7"/>
<ellipse cx="370.5" cy="137.9" rx="2.2" ry="1.7"/>
<ellipse cx="380.7" cy="136.5" rx="2.2" ry="1.7"/>
<ellipse cx="392.6" cy="137.5" rx="2.2" ry="1.7"/>
<ellipse cx="403" cy="138.2" rx="2.2" ry="1.7"/>
<ellipse cx="414.1" cy="136.1" rx="2.2" ry="1.7"/>
<ellipse cx="425" cy="135.4" rx="2.2" ry="1.7"/>
<ellipse cx="434.4" cy="137.5" rx="2.2" ry="1.7"/>
<ellipse cx="315.3" cy="144.3" rx="2.2" ry="1.7"/>
<ellipse cx="330.9" cy="145.4" rx="2.2" ry="1.7"/>
<ellipse cx="339.9" cy="144.1" rx="2.2" ry="1.7"/>
<ellipse cx="349.8" cy="143.1" rx="2.2" ry="1.7"/>
<ellipse cx="360.4" cy="145.8" rx="2.2" ry="1.7"/>
<ellipse cx="374.6" cy="142.9" rx="2.2" ry="1.7"/>
<ellipse cx="384.8" cy="142.6" rx="2.2" ry="1.7"/>
<ellipse cx="395" cy="145.2" rx="2.2" ry="1.7"/>
<ellipse cx="408.6" cy="144.2" rx="2.2" ry="1.7"/>
<ellipse cx="417.9" cy="144.9" rx="2.2" ry="1.7"/>
<ellipse cx="432.8" cy="144.1" rx="2.2" ry="1.7"/>
<ellipse cx="439.5" cy="142.6" rx="2.2" ry="1.7"/>
<ellipse cx="323.3" cy="153.3" rx="2.2" ry="1.7"/>
<ellipse cx="332.6" cy="151.1" rx="2.2" ry="1.7"/>
<ellipse cx="346.6" cy="153.5" rx="2.2" ry="1.7"/>
<ellipse cx="356.1" cy="150.3" rx="2.2" ry="1.7"/>
<ellipse cx="370.1" cy="151.2" rx="2.2" ry="1.7"/>
<ellipse cx="380.8" cy="150.7" rx="2.2" ry="1.7"/>
<ellipse cx="391.9" cy="153.3" rx="2.2" ry="1.7"/>
<ellipse cx="403.3" cy="151.5" rx="2.2" ry="1.7"/>
<ellipse cx="414.6" cy="150.6" rx="2.2" ry="1.7"/>
<ellipse cx="423.8" cy="151.7" rx="2.2" ry="1.7"/>
<ellipse cx="438" cy="150.7" rx="2.2" ry="1.7"/>
<ellipse cx="315.9" cy="158.7" rx="2.2" ry="1.7"/>
<ellipse cx="330.4" cy="161.5" rx="2.2" ry="1.7"/>
<ellipse cx="341" cy="159.6" rx="2.2" ry="1.7"/>
<ellipse cx="350.2" cy="161" rx="2.2" ry="1.7"/>
<ellipse cx="364.5" cy="158.2" rx="2.2" ry="1.7"/>
<ellipse cx="372.4" cy="161" rx="2.2" ry="1.7"/>
<ellipse cx="387" cy="159" rx="2.2" ry="1.7"/>
<ellipse cx="395.4" cy="159.4" rx="2.2" ry="1.7"/>
<ellipse cx="408" cy="158.2" rx="2.2" ry="1.7"/>
<ellipse cx="420.9" cy="159.8" rx="2.2" ry="1.7"/>
<ellipse cx="431.8" cy="158.7" rx="2.2" ry="1.7"/>
<ellipse cx="324.1" cy="168.7" rx="2.2" ry="1.7"/>
<ellipse cx="332" cy="165.7" rx="2.2" ry="1.7"/>
<ellipse cx="346.9" cy="166.7" rx="2.2" ry="1.7"/>
<ellipse cx="357" cy="166.1" rx="2.2" ry="1.7"/>
<ellipse cx="370.7" cy="167.4" rx="2.2" ry="1.7"/>
<ellipse cx="381.3" cy="165.8" rx="2.2" ry="1.7"/>
<ellipse cx="390.7" cy="165.7" rx="2.2" ry="1.7"/>
<ellipse cx="404.1" cy="167.2" rx="2.2" ry="1.7"/>
<ellipse cx="411.2" cy="165.8" rx="2.2" ry="1.7"/>
<ellipse cx="425" cy="165.8" rx="2.2" ry="1.7"/>
<ellipse cx="434.4" cy="167.2" rx="2.2" ry="1.7"/>
<ellipse cx="318" cy="173.8" rx="2.2" ry="1.7"/>
<ellipse cx="327.5" cy="176.2" rx="2.2" ry="1.7"/>
<ellipse cx="338.2" cy="174" rx="2.2" ry="1.7"/>
<ellipse cx="350" cy="175" rx="2.2" ry="1.7"/>
<ellipse cx="360" cy="173.3" rx="2.2" ry="1.7"/>
<ellipse cx="373.7" cy="173.8" rx="2.2" ry="1.7"/>
<ellipse cx="386.1" cy="176.2" rx="2.2" ry="1.7"/>
<ellipse cx="396.9" cy="175.8" rx="2.2" ry="1.7"/>
<ellipse cx="407.2" cy="173.4" rx="2.2" ry="1.7"/>
<ellipse cx="418.8" cy="174.6" rx="2.2" ry="1.7"/>
<ellipse cx="430.9" cy="173.7" rx="2.2" ry="1.7"/>
<ellipse cx="440.3" cy="176.3" rx="2.2" ry="1.7"/>
<ellipse cx="325.3" cy="181.9" rx="2.2" ry="1.7"/>
<ellipse cx="332.5" cy="183.6" rx="2.2" ry="1.7"/>
<ellipse cx="346" cy="183.2" rx="2.2" ry="1.7"/>
<ellipse cx="354.6" cy="182.5" rx="2.2" ry="1.7"/>
<ellipse cx="365.7" cy="181.8" rx="2.2" ry="1.7"/>
<ellipse cx="380.6" cy="181.1" rx="2.2" ry="1.7"/>
<ellipse cx="389.8" cy="184.7" rx="2.2" ry="1.7"/>
<ellipse cx="404.6" cy="182.7" rx="2.2" ry="1.7"/>
<ellipse cx="414.7" cy="183.3" rx="2.2" ry="1.7"/>
<ellipse cx="424.6" cy="184.2" rx="2.2" ry="1.7"/>
<ellipse cx="434.3" cy="184" rx="2.2" ry="1.7"/>
<ellipse cx="318.3" cy="190.3" rx="2.2" ry="1.7"/>
<ellipse cx="330.2" cy="189" rx="2.2" ry="1.7"/>
<ellipse cx="340" cy="191.9" rx="2.2" ry="1.7"/>
<ellipse cx="353.5" cy="189.4" rx="2.2" ry="1.7"/>
<ellipse cx="361.3" cy="192" rx="2.2" ry="1.7"/>
<ellipse cx="373.1" cy="188.8" rx="2.2" ry="1.7"/>
<ellipse cx="386.3" cy="190.2" rx="2.2" ry="1.7"/>
<ellipse cx="397.7" cy="190.4" rx="2.2" ry="1.7"/>
<ellipse cx="407.8" cy="190.2" rx="2.2" ry="1.7"/>
<ellipse cx="418" cy="192" rx="2.2" ry="1.7"/>
<ellipse cx="431.3" cy="191.6" rx="2.2" ry="1.7"/>
<ellipse cx="313.9" cy="199.6" rx="2.2" ry="1.7"/>
<ellipse cx="323.1" cy="198.5" rx="2.2" ry="1.7"/>
<ellipse cx="332.3" cy="199.2" rx="2.2" ry="1.7"/>
<ellipse cx="344" cy="198.3" rx="2.2" ry="1.7"/>
<ellipse cx="355" cy="196.6" rx="2.2" ry="1.7"/>
<ellipse cx="368.8" cy="198.2" rx="2.2" ry="1.7"/>
<ellipse cx="380.5" cy="199.3" rx="2.2" ry="1.7"/>
<ellipse cx="393.4" cy="196.6" rx="2.2" ry="1.7"/>
<ellipse cx="402.8" cy="198.5" rx="2.2" ry="1.7"/>
<ellipse cx="414.2" cy="198.4" rx="2.2" ry="1.7"/>
<ellipse cx="425" cy="199.6" rx="2.2" ry="1.7"/>
<ellipse cx="435.8" cy="198.3" rx="2.2" ry="1.7"/>
<ellipse cx="315.5" cy="204" rx="2.2" ry="1.7"/>
<ellipse cx="327.2" cy="204.8" rx="2.2" ry="1.7"/>
<ellipse cx="340.1" cy="206.2" rx="2.2" ry="1.7"/>
<ellipse cx="353" cy="205.8" rx="2.2" ry="1.7"/>
<ellipse cx="364.6" cy="205.5" rx="2.2" ry="1.7"/>
<ellipse cx="375.2" cy="206.1" rx="2.2" ry="1.7"/>
<ellipse cx="385.8" cy="205" rx="2.2" ry="1.7"/>
<ellipse cx="398.8" cy="206.9" rx="2.2" ry="1.7"/>
<ellipse cx="406" cy="206" rx="2.2" ry="1.7"/>
<ellipse cx="421.7" cy="204.2" rx="2.2" ry="1.7"/>
<ellipse cx="429.4" cy="206.8" rx="2.2" ry="1.7"/>
<ellipse cx="439.3" cy="206.8" rx="2.2" ry="1.7"/>
</g></g>
<path d="M315.1,155.5 A61.5,35 0 0 0 438.1,155.5" fill="none" stroke="#a4dbf1" stroke-width="2.2"/>
<path d="M316.4,155.5 A60.2,33.7 0 0 0 436.8,155.5" fill="none" stroke="#5f7c88" stroke-width="0.6"/>
<path d="M316.4,155.5 A60.2,33.7 0 0 1 436.8,155.5" fill="none" stroke="#5f7c88" stroke-width="0.6"/>
<ellipse cx="376.6" cy="155.5" rx="62.5" ry="36" fill="none" stroke="#5f7c88" stroke-width="0.9"/>
<path d="M314.1,155.5 L314.1,172 A62.5,36 0 0 0 439.1,172 L439.1,155.5" fill="none" stroke="#6f8590" stroke-width="0.9"/>
<radialGradient id="cg7" cx="0.5" cy="0.5" r="0.6"><stop offset="0.3" stop-color="#f9cdbd"/><stop offset="1" stop-color="#eea493"/></radialGradient>
<path d="M639.2,155.5 L639.2,172 A62.5,36 0 0 0 764.2,172 L764.2,155.5 Z" fill="#9ad6ef" stroke="#6f8590" stroke-width="0.9"/>
<path d="M640.8,155.5 L640.8,171.5 A60.9,34.4 0 0 0 762.6,171.5 L762.6,155.5 Z" fill="#ef9e8c" stroke="#6f8590" stroke-width="0.5"/>
<ellipse cx="701.7" cy="155.5" rx="62.5" ry="36" fill="#9ad6f0" stroke="#6f8590" stroke-width="0.9"/>
<clipPath id="ld7"><path d="M641.7,158.5 A60,27 0 0 1 761.7,158.5 L762.2,166.5 A60.5,33.5 0 0 1 641.2,166.5 Z"/></clipPath>
<g clip-path="url(#ld7)">
<rect x="639.2" y="119.5" width="125" height="92" fill="#f3b1a1"/>
<g fill="url(#cg7)" stroke="#5e4444" stroke-width="0.6" stroke-linejoin="round">
<path d="M647.4,126.3 L642.9,121 L642.9,120.5 L649.2,114 L653.5,118.2 L653.4,124.4Z"/>
<path d="M653.4,124.4 L653.5,118.2 L661.4,116.5 L664,118.4 L664,123.3 L658.4,128.1Z"/>
<path d="M676,119.6 L675.4,124.3 L672,127.8 L664,123.3 L664,118.4 L669.7,115.3Z"/>
<path d="M676,119.6 L675.4,124.3 L681.6,126.6 L688.1,122 L688,121.4 L681.8,115.6Z"/>
<path d="M699.9,122.4 L692.4,127.2 L688.1,122 L688,121.4 L694,115.1 L699.8,117.6Z"/>
<path d="M703.4,114.8 L699.8,117.6 L699.9,122.4 L706.5,127.2 L710.3,124.4 L710.4,120.3Z"/>
<path d="M714.8,115.1 L721.9,119.4 L721.9,122.5 L717.5,126.6 L710.3,124.4 L710.4,120.3Z"/>
<path d="M721.9,119.4 L721.9,122.5 L728.9,126.5 L733.1,122.5 L733.7,117.8 L727.7,113.1Z"/>
<path d="M744,120.9 L743.8,123.2 L739.2,126.6 L733.1,122.5 L733.7,117.8 L738.9,116.2Z"/>
<path d="M744,120.9 L743.8,123.2 L750,129.5 L754.5,124 L754.3,119.5 L749.9,117.2Z"/>
<path d="M754.3,119.5 L761.7,114.8 L765.5,118.3 L765.8,122 L760.7,126.5 L754.5,124Z"/>
<path d="M646.2,130.7 L641.3,133 L637.4,130.3 L636.9,127.4 L642.9,121 L647.4,126.3Z"/>
<path d="M646.2,130.7 L652.9,136.1 L658.5,130.8 L658.4,128.1 L653.4,124.4 L647.4,126.3Z"/>
<path d="M658.5,130.8 L665.5,136.1 L665.8,136.1 L672,129.9 L672,127.8 L664,123.3 L658.4,128.1Z"/>
<path d="M682.9,132.6 L681.6,126.6 L675.4,124.3 L672,127.8 L672,129.9 L677.3,134.8Z"/>
<path d="M688.5,134.7 L692.5,130.4 L692.4,127.2 L688.1,122 L681.6,126.6 L682.9,132.6Z"/>
<path d="M706.5,127.2 L699.9,122.4 L692.4,127.2 L692.5,130.4 L701.1,134.2 L705.7,131.2Z"/>
<path d="M718.7,133.7 L717.5,126.6 L710.3,124.4 L706.5,127.2 L705.7,131.2 L709.8,134.7Z"/>
<path d="M718.7,133.7 L717.5,126.6 L721.9,122.5 L728.9,126.5 L729.4,131 L719.5,134.5Z"/>
<path d="M733.2,134.7 L738.4,131.9 L739.2,126.6 L733.1,122.5 L728.9,126.5 L729.4,131Z"/>
<path d="M743.8,123.2 L739.2,126.6 L738.4,131.9 L744,133.9 L750,130.5 L750,129.5Z"/>
<path d="M750,129.5 L750,130.5 L753.2,133.8 L761,131.5 L760.7,126.5 L754.5,124Z"/>
<path d="M765.8,122 L772.7,128.7 L766.5,135.7 L761,131.5 L760.7,126.5Z"/>
<path d="M646.2,130.7 L641.3,133 L641,139.7 L647.1,141.2 L652.7,137.7 L652.9,136.1Z"/>
<path d="M658.5,130.8 L665.5,136.1 L658.2,144.6 L652.7,137.7 L652.9,136.1Z"/>
<path d="M676.8,139.4 L671,142.6 L665.8,136.1 L672,129.9 L677.3,134.8Z"/>
<path d="M688.7,139.1 L683.1,144.1 L676.8,139.4 L677.3,134.8 L682.9,132.6 L688.5,134.7Z"/>
<path d="M688.7,139.1 L692.1,141.4 L700.7,139 L701.1,134.2 L692.5,130.4 L688.5,134.7Z"/>
<path d="M704.6,144.9 L703.7,144.6 L700.7,139 L701.1,134.2 L705.7,131.2 L709.8,134.7 L709.9,139.3Z"/>
<path d="M715.9,142.3 L719.9,138.2 L719.5,134.5 L718.7,133.7 L709.8,134.7 L709.9,139.3Z"/>
<path d="M719.5,134.5 L729.4,131 L733.2,134.7 L733,138.4 L725.8,142.5 L719.9,138.2Z"/>
<path d="M733.2,134.7 L738.4,131.9 L744,133.9 L744.1,138.8 L739.3,144.4 L737.9,144 L733,138.4Z"/>
<path d="M744.1,138.8 L751.6,141.5 L753.8,139.5 L753.2,133.8 L750,130.5 L744,133.9Z"/>
<path d="M753.8,139.5 L762.2,142.4 L766.5,136.4 L766.5,135.7 L761,131.5 L753.2,133.8Z"/>
<path d="M643.6,152.1 L648.1,147.1 L647.1,141.2 L641,139.7 L638,142.4 L637.9,147.4 L642.2,152.2Z"/>
<path d="M658.3,145.6 L655.5,148.1 L648.1,147.1 L647.1,141.2 L652.7,137.7 L658.2,144.6Z"/>
<path d="M658.3,145.6 L665.5,149.7 L670.5,145 L671,142.6 L665.8,136.1 L665.5,136.1 L658.2,144.6Z"/>
<path d="M683.1,144.1 L682.9,146.6 L678.2,150.1 L670.5,145 L671,142.6 L676.8,139.4Z"/>
<path d="M688.7,139.1 L692.1,141.4 L693.8,146.3 L688.1,151.3 L682.9,146.6 L683.1,144.1Z"/>
<path d="M698.1,148.3 L703.7,144.6 L700.7,139 L692.1,141.4 L693.8,146.3Z"/>
<path d="M715.9,142.3 L709.9,139.3 L704.6,144.9 L709.9,150.5 L715.3,145.8Z"/>
<path d="M715.9,142.3 L719.9,138.2 L725.8,142.5 L725.6,145.9 L721.5,148.6 L715.3,145.8Z"/>
<path d="M730.5,151.1 L737.9,144 L733,138.4 L725.8,142.5 L725.6,145.9Z"/>
<path d="M744.1,138.8 L751.6,141.5 L750,146.9 L742.3,147.9 L739.3,144.4Z"/>
<path d="M751.6,141.5 L750,146.9 L754.6,152.6 L755,152.6 L762.5,144.8 L762.2,142.4 L753.8,139.5Z"/>
<path d="M643.6,152.1 L648.1,147.1 L655.5,148.1 L653.9,155.6 L649.5,156Z"/>
<path d="M660.4,159.6 L657.9,159.5 L653.9,155.6 L655.5,148.1 L658.3,145.6 L665.5,149.7 L666,152.8Z"/>
<path d="M673.1,157 L677,155 L678.2,150.1 L670.5,145 L665.5,149.7 L666,152.8Z"/>
<path d="M683,158.9 L677,155 L678.2,150.1 L682.9,146.6 L688.1,151.3 L688.9,154.9Z"/>
<path d="M688.9,154.9 L688.1,151.3 L693.8,146.3 L698.1,148.3 L697.8,153.8 L691.3,156.1Z"/>
<path d="M698.1,148.3 L703.7,144.6 L704.6,144.9 L709.9,150.5 L709.9,150.6 L702.8,157.5 L697.8,153.8Z"/>
<path d="M715.3,145.8 L721.5,148.6 L720.6,154.2 L716.4,157.5 L709.9,150.6 L709.9,150.5Z"/>
<path d="M730.6,152.9 L728.8,155.4 L720.6,154.2 L721.5,148.6 L725.6,145.9 L730.5,151.1Z"/>
<path d="M730.6,152.9 L739,155.7 L741.5,153.7 L742.3,147.9 L739.3,144.4 L737.9,144 L730.5,151.1Z"/>
<path d="M748.7,157.5 L741.5,153.7 L742.3,147.9 L750,146.9 L754.6,152.6Z"/>
<path d="M755,152.6 L762.5,144.8 L766.2,148 L766.5,154.1 L760.3,158.2Z"/>
<path d="M647.2,162.5 L649.5,156 L643.6,152.1 L642.2,152.2 L638.3,159.4 L642.6,163.4Z"/>
<path d="M647.2,162.5 L652.7,166.9 L657.9,159.5 L653.9,155.6 L649.5,156Z"/>
<path d="M672.2,162.8 L673.1,157 L666,152.8 L660.4,159.6 L666,166.6Z"/>
<path d="M675.8,165.2 L683,162.4 L683,158.9 L677,155 L673.1,157 L672.2,162.8Z"/>
<path d="M686,166.7 L693.1,162.4 L691.3,156.1 L688.9,154.9 L683,158.9 L683,162.4Z"/>
<path d="M691.3,156.1 L697.8,153.8 L702.8,157.5 L702.9,160.7 L697.8,164.9 L693.1,162.4Z"/>
<path d="M702.8,157.5 L709.9,150.6 L716.4,157.5 L716.5,159.7 L710.8,165.6 L702.9,160.7Z"/>
<path d="M728.7,161.6 L728.8,155.4 L720.6,154.2 L716.4,157.5 L716.5,159.7 L723.4,163.9Z"/>
<path d="M728.7,161.6 L728.8,155.4 L730.6,152.9 L739,155.7 L738.4,160.7 L733.6,164.5Z"/>
<path d="M746.2,165.1 L738.4,160.7 L739,155.7 L741.5,153.7 L748.7,157.5 L748.5,163.3Z"/>
<path d="M748.5,163.3 L748.7,157.5 L754.6,152.6 L755,152.6 L760.3,158.2 L760.5,160.1 L755.8,165.4Z"/>
<path d="M642.6,163.4 L641.9,171.2 L639,173.1 L632.1,167.6 L638.1,159.4 L638.3,159.4Z"/>
<path d="M647.2,162.5 L652.7,166.9 L652.8,168.9 L648.6,172.3 L641.9,171.2 L642.6,163.4Z"/>
<path d="M666,166.6 L660.4,159.6 L657.9,159.5 L652.7,166.9 L652.8,168.9 L658.7,172.4 L665.5,169.9Z"/>
<path d="M675.8,165.2 L677.2,170.9 L670.9,175.5 L670,175.5 L665.5,169.9 L666,166.6 L672.2,162.8Z"/>
<path d="M675.8,165.2 L683,162.4 L686,166.7 L685.9,168.6 L683.2,172.2 L677.2,170.9Z"/>
<path d="M693.6,171.9 L697.7,168.3 L697.8,164.9 L693.1,162.4 L686,166.7 L685.9,168.6Z"/>
<path d="M697.8,164.9 L702.9,160.7 L710.8,165.6 L710.8,166.1 L704.4,173.7 L697.7,168.3Z"/>
<path d="M717.3,173.4 L710.8,166.1 L710.8,165.6 L716.5,159.7 L723.4,163.9 L722.9,169.6Z"/>
<path d="M722.9,169.6 L723.4,163.9 L728.7,161.6 L733.6,164.5 L734.1,167.7 L727.9,172.6Z"/>
<path d="M739.4,172.6 L744.8,169.9 L746.2,165.1 L738.4,160.7 L733.6,164.5 L734.1,167.7Z"/>
<path d="M746.2,165.1 L744.8,169.9 L750.6,174.7 L756.6,168.6 L755.8,165.4 L748.5,163.3Z"/>
<path d="M756.6,168.6 L762.2,172.7 L767.4,167.9 L767.8,165.2 L760.5,160.1 L755.8,165.4Z"/>
<path d="M642.7,181 L649.6,178.6 L648.6,172.3 L641.9,171.2 L639,173.1 L638.2,176.4Z"/>
<path d="M658.7,172.4 L652.8,168.9 L648.6,172.3 L649.6,178.6 L653.6,182 L657.8,177.5Z"/>
<path d="M665.5,169.9 L658.7,172.4 L657.8,177.5 L666.3,182 L670,175.5Z"/>
<path d="M677.2,170.9 L683.2,172.2 L684,177.7 L678.5,181.7 L670.9,175.5Z"/>
<path d="M693.4,177.9 L687.2,179.3 L684,177.7 L683.2,172.2 L685.9,168.6 L693.6,171.9Z"/>
<path d="M693.4,177.9 L697.6,180.9 L704.5,176.8 L704.4,173.7 L697.7,168.3 L693.6,171.9Z"/>
<path d="M717,176 L709.7,180.4 L704.5,176.8 L704.4,173.7 L710.8,166.1 L717.3,173.4Z"/>
<path d="M722.7,181.5 L717,176 L717.3,173.4 L722.9,169.6 L727.9,172.6 L728.4,176.2Z"/>
<path d="M734.4,178.9 L738.7,175.7 L739.4,172.6 L734.1,167.7 L727.9,172.6 L728.4,176.2Z"/>
<path d="M738.7,175.7 L743.5,180.9 L751.3,178.5 L750.6,174.7 L744.8,169.9 L739.4,172.6Z"/>
<path d="M754.5,181.4 L754.6,181.4 L762.3,177.4 L762.2,172.7 L756.6,168.6 L750.6,174.7 L751.3,178.5Z"/>
<path d="M642.9,186.6 L642.7,181 L638.2,176.4 L630.7,181.6 L637.9,187.5Z"/>
<path d="M642.9,186.6 L646.5,189.5 L653.7,183.4 L653.6,182 L649.6,178.6 L642.7,181Z"/>
<path d="M666.3,182 L657.8,177.5 L653.6,182 L653.7,183.4 L660.1,188.9 L666.3,183.5Z"/>
<path d="M670,175.5 L666.3,182 L666.3,183.5 L672.9,188.5 L678.1,185 L678.5,181.7 L670.9,175.5Z"/>
<path d="M687.2,179.3 L687.8,185.1 L682.2,188.3 L678.1,185 L678.5,181.7 L684,177.7Z"/>
<path d="M693.4,177.9 L697.6,180.9 L697.4,185.7 L692.7,189.1 L687.8,185.1 L687.2,179.3Z"/>
<path d="M697.6,180.9 L704.5,176.8 L709.7,180.4 L709.9,182.9 L703.6,190.1 L697.4,185.7Z"/>
<path d="M722.7,181.5 L717,176 L709.7,180.4 L709.9,182.9 L715.7,188.6 L723.1,185.1Z"/>
<path d="M722.7,181.5 L728.4,176.2 L734.4,178.9 L733.6,185.7 L725.7,187.1 L723.1,185.1Z"/>
<path d="M734.4,178.9 L738.7,175.7 L743.5,180.9 L742.5,186.6 L736.9,188.4 L733.6,185.7Z"/>
<path d="M754.5,181.4 L749,190.5 L742.5,186.6 L743.5,180.9 L751.3,178.5Z"/>
<path d="M762.2,191.2 L754.6,181.4 L762.3,177.4 L766.7,180.2 L767.4,184.3Z"/>
<path d="M642.9,186.6 L646.5,189.5 L646.6,190.2 L641.7,195.6 L635.7,193.8 L637.9,187.5Z"/>
<path d="M660.1,188.9 L653.7,183.4 L646.5,189.5 L646.6,190.2 L651.8,195.7 L660.1,190.4Z"/>
<path d="M666.3,183.5 L660.1,188.9 L660.1,190.4 L662.9,194.2 L672.6,192.2 L672.9,188.5Z"/>
<path d="M676.8,198.8 L676.1,198.6 L672.6,192.2 L672.9,188.5 L678.1,185 L682.2,188.3 L683.2,192Z"/>
<path d="M688.9,193.8 L692,191.2 L692.7,189.1 L687.8,185.1 L682.2,188.3 L683.2,192Z"/>
<path d="M698.4,197.3 L704.2,192.7 L703.6,190.1 L697.4,185.7 L692.7,189.1 L692,191.2Z"/>
<path d="M704.2,192.7 L710.6,196.9 L714.5,193.2 L715.7,188.6 L709.9,182.9 L703.6,190.1Z"/>
<path d="M723.1,185.1 L715.7,188.6 L714.5,193.2 L722.4,196.2 L726,194.3 L725.7,187.1Z"/>
<path d="M725.7,187.1 L726,194.3 L730.2,197.5 L736.7,192.2 L736.9,188.4 L733.6,185.7Z"/>
<path d="M736.7,192.2 L736.9,188.4 L742.5,186.6 L749,190.5 L749.5,192.5 L743.1,199.2Z"/>
<path d="M756.2,195.9 L762.2,191.6 L762.2,191.2 L754.6,181.4 L754.5,181.4 L749,190.5 L749.5,192.5Z"/>
<path d="M637.9,204.1 L626.7,198 L635.7,193.8 L641.7,195.6 L642.5,199.8Z"/>
<path d="M642.5,199.8 L641.7,195.6 L646.6,190.2 L651.8,195.7 L651.8,199.5 L648.7,201.8Z"/>
<path d="M662.9,194.2 L663.2,200.7 L659.2,203.6 L651.8,199.5 L651.8,195.7 L660.1,190.4Z"/>
<path d="M672.6,192.2 L676.1,198.6 L669.8,202.8 L663.2,200.7 L662.9,194.2Z"/>
<path d="M688.8,201 L688.9,193.8 L683.2,192 L676.8,198.8 L681.2,203Z"/>
<path d="M691.8,202.9 L697.7,200.3 L698.4,197.3 L692,191.2 L688.9,193.8 L688.8,201Z"/>
<path d="M702.8,204.7 L710.6,197.6 L710.6,196.9 L704.2,192.7 L698.4,197.3 L697.7,200.3Z"/>
<path d="M722.4,196.2 L714.5,193.2 L710.6,196.9 L710.6,197.6 L716,205.6 L720.5,202.1Z"/>
<path d="M730.9,201.2 L729.6,203.5 L720.5,202.1 L722.4,196.2 L726,194.3 L730.2,197.5Z"/>
<path d="M743,200 L743.1,199.2 L736.7,192.2 L730.2,197.5 L730.9,201.2 L739,202.4Z"/>
<path d="M747.5,205.1 L756.6,201.3 L756.2,195.9 L749.5,192.5 L743.1,199.2 L743,200Z"/>
<path d="M756.6,201.3 L758.5,203.5 L767.1,202 L767.7,195.6 L762.2,191.6 L756.2,195.9Z"/>
<path d="M647.6,208.5 L648.7,201.8 L642.5,199.8 L637.9,204.1 L639.1,208.4 L642.8,212.1Z"/>
<path d="M647.6,208.5 L655.7,210.9 L658.8,208.2 L659.2,203.6 L651.8,199.5 L648.7,201.8Z"/>
<path d="M669.8,202.8 L663.2,200.7 L659.2,203.6 L658.8,208.2 L664.6,212.1 L670.3,209.5Z"/>
<path d="M681.2,203 L676.8,198.8 L676.1,198.6 L669.8,202.8 L670.3,209.5 L676.6,214.3 L681,207.2Z"/>
<path d="M691.8,202.9 L692.4,207.6 L689,211.4 L681,207.2 L681.2,203 L688.8,201Z"/>
<path d="M691.8,202.9 L697.7,200.3 L702.8,204.7 L703,206.9 L699.7,211.6 L692.4,207.6Z"/>
<path d="M703,206.9 L711.9,209.9 L716,206.7 L716,205.6 L710.6,197.6 L702.8,204.7Z"/>
<path d="M720.5,202.1 L716,205.6 L716,206.7 L721.9,211.5 L729.3,206.5 L729.6,203.5Z"/>
<path d="M738,209 L734.4,211.9 L729.3,206.5 L729.6,203.5 L730.9,201.2 L739,202.4Z"/>
<path d="M747.5,209.1 L747.5,205.1 L743,200 L739,202.4 L738,209 L746,211.2Z"/>
<path d="M747.5,209.1 L755.7,211.3 L758.8,208.7 L758.5,203.5 L756.6,201.3 L747.5,205.1Z"/>
<path d="M758.8,208.7 L766.7,213.5 L771.8,207.1 L767.1,202 L758.5,203.5Z"/>
</g><g fill="#a58ab0" opacity="0.55">
<ellipse cx="649" cy="121.1" rx="3.3" ry="2.5"/>
<ellipse cx="657.9" cy="121.2" rx="3.3" ry="2.5"/>
<ellipse cx="670.1" cy="121.1" rx="3.3" ry="2.5"/>
<ellipse cx="681.4" cy="122.5" rx="3.3" ry="2.5"/>
<ellipse cx="694.7" cy="120.5" rx="3.3" ry="2.5"/>
<ellipse cx="705" cy="120.3" rx="3.3" ry="2.5"/>
<ellipse cx="715.7" cy="120.6" rx="3.3" ry="2.5"/>
<ellipse cx="728.1" cy="120.7" rx="3.3" ry="2.5"/>
<ellipse cx="738.3" cy="122" rx="3.3" ry="2.5"/>
<ellipse cx="749.4" cy="122.7" rx="3.3" ry="2.5"/>
<ellipse cx="759.5" cy="122.1" rx="3.3" ry="2.5"/>
<ellipse cx="642.1" cy="127" rx="3.3" ry="2.5"/>
<ellipse cx="651.7" cy="129.7" rx="3.3" ry="2.5"/>
<ellipse cx="665.2" cy="129.6" rx="3.3" ry="2.5"/>
<ellipse cx="678.8" cy="129.6" rx="3.3" ry="2.5"/>
<ellipse cx="685.4" cy="128.2" rx="3.3" ry="2.5"/>
<ellipse cx="699.5" cy="127.9" rx="3.3" ry="2.5"/>
<ellipse cx="712.7" cy="130.6" rx="3.3" ry="2.5"/>
<ellipse cx="723.4" cy="128.8" rx="3.3" ry="2.5"/>
<ellipse cx="734.7" cy="127.5" rx="3.3" ry="2.5"/>
<ellipse cx="743.2" cy="128.8" rx="3.3" ry="2.5"/>
<ellipse cx="756.8" cy="128.8" rx="3.3" ry="2.5"/>
<ellipse cx="764.9" cy="128.3" rx="3.3" ry="2.5"/>
<ellipse cx="646.4" cy="136.3" rx="3.3" ry="2.5"/>
<ellipse cx="659.2" cy="137.6" rx="3.3" ry="2.5"/>
<ellipse cx="672.3" cy="136.7" rx="3.3" ry="2.5"/>
<ellipse cx="681.8" cy="137.7" rx="3.3" ry="2.5"/>
<ellipse cx="695.4" cy="137.3" rx="3.3" ry="2.5"/>
<ellipse cx="706.2" cy="138.3" rx="3.3" ry="2.5"/>
<ellipse cx="713.6" cy="138" rx="3.3" ry="2.5"/>
<ellipse cx="726.1" cy="136.5" rx="3.3" ry="2.5"/>
<ellipse cx="740.1" cy="137.4" rx="3.3" ry="2.5"/>
<ellipse cx="748" cy="137.2" rx="3.3" ry="2.5"/>
<ellipse cx="758.9" cy="136.1" rx="3.3" ry="2.5"/>
<ellipse cx="644.2" cy="145.3" rx="3.3" ry="2.5"/>
<ellipse cx="651.2" cy="144" rx="3.3" ry="2.5"/>
<ellipse cx="664.9" cy="142.6" rx="3.3" ry="2.5"/>
<ellipse cx="676.6" cy="144.7" rx="3.3" ry="2.5"/>
<ellipse cx="689.4" cy="146" rx="3.3" ry="2.5"/>
<ellipse cx="697.1" cy="143.3" rx="3.3" ry="2.5"/>
<ellipse cx="711.1" cy="142.9" rx="3.3" ry="2.5"/>
<ellipse cx="720.2" cy="144.6" rx="3.3" ry="2.5"/>
<ellipse cx="731.2" cy="145.4" rx="3.3" ry="2.5"/>
<ellipse cx="746.1" cy="142.5" rx="3.3" ry="2.5"/>
<ellipse cx="755.7" cy="145.4" rx="3.3" ry="2.5"/>
<ellipse cx="650.3" cy="150.9" rx="3.3" ry="2.5"/>
<ellipse cx="659.1" cy="152.8" rx="3.3" ry="2.5"/>
<ellipse cx="672.5" cy="150.7" rx="3.3" ry="2.5"/>
<ellipse cx="682.9" cy="153.2" rx="3.3" ry="2.5"/>
<ellipse cx="693.6" cy="150.7" rx="3.3" ry="2.5"/>
<ellipse cx="702.2" cy="151.2" rx="3.3" ry="2.5"/>
<ellipse cx="717.6" cy="150.3" rx="3.3" ry="2.5"/>
<ellipse cx="724.7" cy="151.5" rx="3.3" ry="2.5"/>
<ellipse cx="736.3" cy="150.7" rx="3.3" ry="2.5"/>
<ellipse cx="747.4" cy="152.1" rx="3.3" ry="2.5"/>
<ellipse cx="762.2" cy="151.7" rx="3.3" ry="2.5"/>
<ellipse cx="645.1" cy="158.7" rx="3.3" ry="2.5"/>
<ellipse cx="651.3" cy="161" rx="3.3" ry="2.5"/>
<ellipse cx="667.3" cy="159.5" rx="3.3" ry="2.5"/>
<ellipse cx="677.8" cy="161.1" rx="3.3" ry="2.5"/>
<ellipse cx="688.3" cy="161.1" rx="3.3" ry="2.5"/>
<ellipse cx="696.5" cy="158.8" rx="3.3" ry="2.5"/>
<ellipse cx="709.1" cy="158.3" rx="3.3" ry="2.5"/>
<ellipse cx="723.7" cy="157.9" rx="3.3" ry="2.5"/>
<ellipse cx="733.8" cy="158.1" rx="3.3" ry="2.5"/>
<ellipse cx="743.5" cy="159.4" rx="3.3" ry="2.5"/>
<ellipse cx="753.8" cy="159.8" rx="3.3" ry="2.5"/>
<ellipse cx="638.1" cy="166.1" rx="3.3" ry="2.5"/>
<ellipse cx="646.6" cy="166.8" rx="3.3" ry="2.5"/>
<ellipse cx="658.8" cy="166.3" rx="3.3" ry="2.5"/>
<ellipse cx="672.9" cy="168.6" rx="3.3" ry="2.5"/>
<ellipse cx="680" cy="166.9" rx="3.3" ry="2.5"/>
<ellipse cx="692" cy="167.2" rx="3.3" ry="2.5"/>
<ellipse cx="703.5" cy="167.4" rx="3.3" ry="2.5"/>
<ellipse cx="718.1" cy="167" rx="3.3" ry="2.5"/>
<ellipse cx="728" cy="167.8" rx="3.3" ry="2.5"/>
<ellipse cx="739.9" cy="165.7" rx="3.3" ry="2.5"/>
<ellipse cx="751.1" cy="169.1" rx="3.3" ry="2.5"/>
<ellipse cx="761.7" cy="166.6" rx="3.3" ry="2.5"/>
<ellipse cx="645" cy="176.8" rx="3.3" ry="2.5"/>
<ellipse cx="653.4" cy="175.5" rx="3.3" ry="2.5"/>
<ellipse cx="662.7" cy="177" rx="3.3" ry="2.5"/>
<ellipse cx="678.1" cy="175.6" rx="3.3" ry="2.5"/>
<ellipse cx="689.1" cy="173.9" rx="3.3" ry="2.5"/>
<ellipse cx="698" cy="174.1" rx="3.3" ry="2.5"/>
<ellipse cx="710.8" cy="173.5" rx="3.3" ry="2.5"/>
<ellipse cx="723.7" cy="175" rx="3.3" ry="2.5"/>
<ellipse cx="732.6" cy="173.6" rx="3.3" ry="2.5"/>
<ellipse cx="745.2" cy="176.3" rx="3.3" ry="2.5"/>
<ellipse cx="756.2" cy="174.1" rx="3.3" ry="2.5"/>
<ellipse cx="638.6" cy="183.1" rx="3.3" ry="2.5"/>
<ellipse cx="647.1" cy="182.9" rx="3.3" ry="2.5"/>
<ellipse cx="660.1" cy="181.9" rx="3.3" ry="2.5"/>
<ellipse cx="672.6" cy="182.5" rx="3.3" ry="2.5"/>
<ellipse cx="684.1" cy="184.1" rx="3.3" ry="2.5"/>
<ellipse cx="691.3" cy="183.4" rx="3.3" ry="2.5"/>
<ellipse cx="703.7" cy="183.8" rx="3.3" ry="2.5"/>
<ellipse cx="716.2" cy="182.6" rx="3.3" ry="2.5"/>
<ellipse cx="729.3" cy="181.1" rx="3.3" ry="2.5"/>
<ellipse cx="738.8" cy="182.1" rx="3.3" ry="2.5"/>
<ellipse cx="747.4" cy="183.8" rx="3.3" ry="2.5"/>
<ellipse cx="761.5" cy="184.3" rx="3.3" ry="2.5"/>
<ellipse cx="640.2" cy="191.4" rx="3.3" ry="2.5"/>
<ellipse cx="653.1" cy="190" rx="3.3" ry="2.5"/>
<ellipse cx="667.1" cy="189.8" rx="3.3" ry="2.5"/>
<ellipse cx="678.4" cy="191" rx="3.3" ry="2.5"/>
<ellipse cx="686.8" cy="188.8" rx="3.3" ry="2.5"/>
<ellipse cx="697.7" cy="192.3" rx="3.3" ry="2.5"/>
<ellipse cx="709.8" cy="189.2" rx="3.3" ry="2.5"/>
<ellipse cx="720.5" cy="192" rx="3.3" ry="2.5"/>
<ellipse cx="731.2" cy="191.6" rx="3.3" ry="2.5"/>
<ellipse cx="742.3" cy="192.3" rx="3.3" ry="2.5"/>
<ellipse cx="755.7" cy="188.8" rx="3.3" ry="2.5"/>
<ellipse cx="638.1" cy="198.3" rx="3.3" ry="2.5"/>
<ellipse cx="646" cy="196.7" rx="3.3" ry="2.5"/>
<ellipse cx="657.6" cy="196.9" rx="3.3" ry="2.5"/>
<ellipse cx="668.4" cy="196.5" rx="3.3" ry="2.5"/>
<ellipse cx="684.4" cy="196.6" rx="3.3" ry="2.5"/>
<ellipse cx="693.4" cy="196.8" rx="3.3" ry="2.5"/>
<ellipse cx="703.2" cy="199.2" rx="3.3" ry="2.5"/>
<ellipse cx="718.2" cy="198.1" rx="3.3" ry="2.5"/>
<ellipse cx="724.7" cy="200.1" rx="3.3" ry="2.5"/>
<ellipse cx="736.2" cy="197.8" rx="3.3" ry="2.5"/>
<ellipse cx="750.1" cy="199.7" rx="3.3" ry="2.5"/>
<ellipse cx="762.8" cy="198.6" rx="3.3" ry="2.5"/>
<ellipse cx="643.6" cy="204.4" rx="3.3" ry="2.5"/>
<ellipse cx="652.8" cy="205.8" rx="3.3" ry="2.5"/>
<ellipse cx="665.1" cy="207.2" rx="3.3" ry="2.5"/>
<ellipse cx="675" cy="206.5" rx="3.3" ry="2.5"/>
<ellipse cx="687" cy="206.9" rx="3.3" ry="2.5"/>
<ellipse cx="697.4" cy="205.8" rx="3.3" ry="2.5"/>
<ellipse cx="708.2" cy="204.8" rx="3.3" ry="2.5"/>
<ellipse cx="723.9" cy="205.2" rx="3.3" ry="2.5"/>
<ellipse cx="734.9" cy="206" rx="3.3" ry="2.5"/>
<ellipse cx="741.8" cy="207" rx="3.3" ry="2.5"/>
<ellipse cx="753.2" cy="207.1" rx="3.3" ry="2.5"/>
<ellipse cx="764.2" cy="206.6" rx="3.3" ry="2.5"/>
</g><g fill="#7a62a2">
<ellipse cx="649" cy="121.1" rx="2.2" ry="1.7"/>
<ellipse cx="657.9" cy="121.2" rx="2.2" ry="1.7"/>
<ellipse cx="670.1" cy="121.1" rx="2.2" ry="1.7"/>
<ellipse cx="681.4" cy="122.5" rx="2.2" ry="1.7"/>
<ellipse cx="694.7" cy="120.5" rx="2.2" ry="1.7"/>
<ellipse cx="705" cy="120.3" rx="2.2" ry="1.7"/>
<ellipse cx="715.7" cy="120.6" rx="2.2" ry="1.7"/>
<ellipse cx="728.1" cy="120.7" rx="2.2" ry="1.7"/>
<ellipse cx="738.3" cy="122" rx="2.2" ry="1.7"/>
<ellipse cx="749.4" cy="122.7" rx="2.2" ry="1.7"/>
<ellipse cx="759.5" cy="122.1" rx="2.2" ry="1.7"/>
<ellipse cx="642.1" cy="127" rx="2.2" ry="1.7"/>
<ellipse cx="651.7" cy="129.7" rx="2.2" ry="1.7"/>
<ellipse cx="665.2" cy="129.6" rx="2.2" ry="1.7"/>
<ellipse cx="678.8" cy="129.6" rx="2.2" ry="1.7"/>
<ellipse cx="685.4" cy="128.2" rx="2.2" ry="1.7"/>
<ellipse cx="699.5" cy="127.9" rx="2.2" ry="1.7"/>
<ellipse cx="712.7" cy="130.6" rx="2.2" ry="1.7"/>
<ellipse cx="723.4" cy="128.8" rx="2.2" ry="1.7"/>
<ellipse cx="734.7" cy="127.5" rx="2.2" ry="1.7"/>
<ellipse cx="743.2" cy="128.8" rx="2.2" ry="1.7"/>
<ellipse cx="756.8" cy="128.8" rx="2.2" ry="1.7"/>
<ellipse cx="764.9" cy="128.3" rx="2.2" ry="1.7"/>
<ellipse cx="646.4" cy="136.3" rx="2.2" ry="1.7"/>
<ellipse cx="659.2" cy="137.6" rx="2.2" ry="1.7"/>
<ellipse cx="672.3" cy="136.7" rx="2.2" ry="1.7"/>
<ellipse cx="681.8" cy="137.7" rx="2.2" ry="1.7"/>
<ellipse cx="695.4" cy="137.3" rx="2.2" ry="1.7"/>
<ellipse cx="706.2" cy="138.3" rx="2.2" ry="1.7"/>
<ellipse cx="713.6" cy="138" rx="2.2" ry="1.7"/>
<ellipse cx="726.1" cy="136.5" rx="2.2" ry="1.7"/>
<ellipse cx="740.1" cy="137.4" rx="2.2" ry="1.7"/>
<ellipse cx="748" cy="137.2" rx="2.2" ry="1.7"/>
<ellipse cx="758.9" cy="136.1" rx="2.2" ry="1.7"/>
<ellipse cx="644.2" cy="145.3" rx="2.2" ry="1.7"/>
<ellipse cx="651.2" cy="144" rx="2.2" ry="1.7"/>
<ellipse cx="664.9" cy="142.6" rx="2.2" ry="1.7"/>
<ellipse cx="676.6" cy="144.7" rx="2.2" ry="1.7"/>
<ellipse cx="689.4" cy="146" rx="2.2" ry="1.7"/>
<ellipse cx="697.1" cy="143.3" rx="2.2" ry="1.7"/>
<ellipse cx="711.1" cy="142.9" rx="2.2" ry="1.7"/>
<ellipse cx="720.2" cy="144.6" rx="2.2" ry="1.7"/>
<ellipse cx="731.2" cy="145.4" rx="2.2" ry="1.7"/>
<ellipse cx="746.1" cy="142.5" rx="2.2" ry="1.7"/>
<ellipse cx="755.7" cy="145.4" rx="2.2" ry="1.7"/>
<ellipse cx="650.3" cy="150.9" rx="2.2" ry="1.7"/>
<ellipse cx="659.1" cy="152.8" rx="2.2" ry="1.7"/>
<ellipse cx="672.5" cy="150.7" rx="2.2" ry="1.7"/>
<ellipse cx="682.9" cy="153.2" rx="2.2" ry="1.7"/>
<ellipse cx="693.6" cy="150.7" rx="2.2" ry="1.7"/>
<ellipse cx="702.2" cy="151.2" rx="2.2" ry="1.7"/>
<ellipse cx="717.6" cy="150.3" rx="2.2" ry="1.7"/>
<ellipse cx="724.7" cy="151.5" rx="2.2" ry="1.7"/>
<ellipse cx="736.3" cy="150.7" rx="2.2" ry="1.7"/>
<ellipse cx="747.4" cy="152.1" rx="2.2" ry="1.7"/>
<ellipse cx="762.2" cy="151.7" rx="2.2" ry="1.7"/>
<ellipse cx="645.1" cy="158.7" rx="2.2" ry="1.7"/>
<ellipse cx="651.3" cy="161" rx="2.2" ry="1.7"/>
<ellipse cx="667.3" cy="159.5" rx="2.2" ry="1.7"/>
<ellipse cx="677.8" cy="161.1" rx="2.2" ry="1.7"/>
<ellipse cx="688.3" cy="161.1" rx="2.2" ry="1.7"/>
<ellipse cx="696.5" cy="158.8" rx="2.2" ry="1.7"/>
<ellipse cx="709.1" cy="158.3" rx="2.2" ry="1.7"/>
<ellipse cx="723.7" cy="157.9" rx="2.2" ry="1.7"/>
<ellipse cx="733.8" cy="158.1" rx="2.2" ry="1.7"/>
<ellipse cx="743.5" cy="159.4" rx="2.2" ry="1.7"/>
<ellipse cx="753.8" cy="159.8" rx="2.2" ry="1.7"/>
<ellipse cx="638.1" cy="166.1" rx="2.2" ry="1.7"/>
<ellipse cx="646.6" cy="166.8" rx="2.2" ry="1.7"/>
<ellipse cx="658.8" cy="166.3" rx="2.2" ry="1.7"/>
<ellipse cx="672.9" cy="168.6" rx="2.2" ry="1.7"/>
<ellipse cx="680" cy="166.9" rx="2.2" ry="1.7"/>
<ellipse cx="692" cy="167.2" rx="2.2" ry="1.7"/>
<ellipse cx="703.5" cy="167.4" rx="2.2" ry="1.7"/>
<ellipse cx="718.1" cy="167" rx="2.2" ry="1.7"/>
<ellipse cx="728" cy="167.8" rx="2.2" ry="1.7"/>
<ellipse cx="739.9" cy="165.7" rx="2.2" ry="1.7"/>
<ellipse cx="751.1" cy="169.1" rx="2.2" ry="1.7"/>
<ellipse cx="761.7" cy="166.6" rx="2.2" ry="1.7"/>
<ellipse cx="645" cy="176.8" rx="2.2" ry="1.7"/>
<ellipse cx="653.4" cy="175.5" rx="2.2" ry="1.7"/>
<ellipse cx="662.7" cy="177" rx="2.2" ry="1.7"/>
<ellipse cx="678.1" cy="175.6" rx="2.2" ry="1.7"/>
<ellipse cx="689.1" cy="173.9" rx="2.2" ry="1.7"/>
<ellipse cx="698" cy="174.1" rx="2.2" ry="1.7"/>
<ellipse cx="710.8" cy="173.5" rx="2.2" ry="1.7"/>
<ellipse cx="723.7" cy="175" rx="2.2" ry="1.7"/>
<ellipse cx="732.6" cy="173.6" rx="2.2" ry="1.7"/>
<ellipse cx="745.2" cy="176.3" rx="2.2" ry="1.7"/>
<ellipse cx="756.2" cy="174.1" rx="2.2" ry="1.7"/>
<ellipse cx="638.6" cy="183.1" rx="2.2" ry="1.7"/>
<ellipse cx="647.1" cy="182.9" rx="2.2" ry="1.7"/>
<ellipse cx="660.1" cy="181.9" rx="2.2" ry="1.7"/>
<ellipse cx="672.6" cy="182.5" rx="2.2" ry="1.7"/>
<ellipse cx="684.1" cy="184.1" rx="2.2" ry="1.7"/>
<ellipse cx="691.3" cy="183.4" rx="2.2" ry="1.7"/>
<ellipse cx="703.7" cy="183.8" rx="2.2" ry="1.7"/>
<ellipse cx="716.2" cy="182.6" rx="2.2" ry="1.7"/>
<ellipse cx="729.3" cy="181.1" rx="2.2" ry="1.7"/>
<ellipse cx="738.8" cy="182.1" rx="2.2" ry="1.7"/>
<ellipse cx="747.4" cy="183.8" rx="2.2" ry="1.7"/>
<ellipse cx="761.5" cy="184.3" rx="2.2" ry="1.7"/>
<ellipse cx="640.2" cy="191.4" rx="2.2" ry="1.7"/>
<ellipse cx="653.1" cy="190" rx="2.2" ry="1.7"/>
<ellipse cx="667.1" cy="189.8" rx="2.2" ry="1.7"/>
<ellipse cx="678.4" cy="191" rx="2.2" ry="1.7"/>
<ellipse cx="686.8" cy="188.8" rx="2.2" ry="1.7"/>
<ellipse cx="697.7" cy="192.3" rx="2.2" ry="1.7"/>
<ellipse cx="709.8" cy="189.2" rx="2.2" ry="1.7"/>
<ellipse cx="720.5" cy="192" rx="2.2" ry="1.7"/>
<ellipse cx="731.2" cy="191.6" rx="2.2" ry="1.7"/>
<ellipse cx="742.3" cy="192.3" rx="2.2" ry="1.7"/>
<ellipse cx="755.7" cy="188.8" rx="2.2" ry="1.7"/>
<ellipse cx="638.1" cy="198.3" rx="2.2" ry="1.7"/>
<ellipse cx="646" cy="196.7" rx="2.2" ry="1.7"/>
<ellipse cx="657.6" cy="196.9" rx="2.2" ry="1.7"/>
<ellipse cx="668.4" cy="196.5" rx="2.2" ry="1.7"/>
<ellipse cx="684.4" cy="196.6" rx="2.2" ry="1.7"/>
<ellipse cx="693.4" cy="196.8" rx="2.2" ry="1.7"/>
<ellipse cx="703.2" cy="199.2" rx="2.2" ry="1.7"/>
<ellipse cx="718.2" cy="198.1" rx="2.2" ry="1.7"/>
<ellipse cx="724.7" cy="200.1" rx="2.2" ry="1.7"/>
<ellipse cx="736.2" cy="197.8" rx="2.2" ry="1.7"/>
<ellipse cx="750.1" cy="199.7" rx="2.2" ry="1.7"/>
<ellipse cx="762.8" cy="198.6" rx="2.2" ry="1.7"/>
<ellipse cx="643.6" cy="204.4" rx="2.2" ry="1.7"/>
<ellipse cx="652.8" cy="205.8" rx="2.2" ry="1.7"/>
<ellipse cx="665.1" cy="207.2" rx="2.2" ry="1.7"/>
<ellipse cx="675" cy="206.5" rx="2.2" ry="1.7"/>
<ellipse cx="687" cy="206.9" rx="2.2" ry="1.7"/>
<ellipse cx="697.4" cy="205.8" rx="2.2" ry="1.7"/>
<ellipse cx="708.2" cy="204.8" rx="2.2" ry="1.7"/>
<ellipse cx="723.9" cy="205.2" rx="2.2" ry="1.7"/>
<ellipse cx="734.9" cy="206" rx="2.2" ry="1.7"/>
<ellipse cx="741.8" cy="207" rx="2.2" ry="1.7"/>
<ellipse cx="753.2" cy="207.1" rx="2.2" ry="1.7"/>
<ellipse cx="764.2" cy="206.6" rx="2.2" ry="1.7"/>
</g></g>
<path d="M640.2,155.5 A61.5,35 0 0 0 763.2,155.5" fill="none" stroke="#a4dbf1" stroke-width="2.2"/>
<path d="M641.5,155.5 A60.2,33.7 0 0 0 761.9,155.5" fill="none" stroke="#5f7c88" stroke-width="0.6"/>
<path d="M641.5,155.5 A60.2,33.7 0 0 1 761.9,155.5" fill="none" stroke="#5f7c88" stroke-width="0.6"/>
<ellipse cx="701.7" cy="155.5" rx="62.5" ry="36" fill="none" stroke="#5f7c88" stroke-width="0.9"/>
<path d="M639.2,155.5 L639.2,172 A62.5,36 0 0 0 764.2,172 L764.2,155.5" fill="none" stroke="#6f8590" stroke-width="0.9"/>
<text x="0" y="116" font-family="Liberation Serif" font-size="23.2" font-weight="normal" font-style="normal" fill="#1c1c1c" stroke="#1c1c1c" stroke-width="0.35" text-anchor="start" textLength="338.5" lengthAdjust="spacingAndGlyphs">Exposure to one of seven selected</text>
<text x="0" y="142.8" font-family="Liberation Serif" font-size="23.2" font-weight="normal" font-style="normal" fill="#1c1c1c" stroke="#1c1c1c" stroke-width="0.35" text-anchor="start" textLength="292.5" lengthAdjust="spacingAndGlyphs">chemicals of cigarette smoke</text>
<text x="773.1" y="114.5" font-family="Liberation Serif" font-size="23" font-weight="normal" font-style="normal" fill="#1c1c1c" stroke="#1c1c1c" stroke-width="0.35" text-anchor="start" textLength="118" lengthAdjust="spacingAndGlyphs">Exposure to</text>
<text x="773.1" y="141.5" font-family="Liberation Serif" font-size="23" font-weight="normal" font-style="normal" fill="#1c1c1c" stroke="#1c1c1c" stroke-width="0.35" text-anchor="start" textLength="112" lengthAdjust="spacingAndGlyphs">DMSO only</text>
<text x="451.3" y="195.6" font-family="Liberation Serif" font-size="23.8" font-weight="normal" font-style="normal" fill="#1c1c1c" stroke="#1c1c1c" stroke-width="0.35" text-anchor="start" textLength="174" lengthAdjust="spacingAndGlyphs">Clonal expansion</text>
<text x="424.7" y="285.4" font-family="Liberation Serif" font-size="22.5" font-weight="bold" font-style="normal" fill="#111" stroke="#111" stroke-width="0.2" text-anchor="start" textLength="230" lengthAdjust="spacingAndGlyphs">Mutational signatures</text>
<text x="58.7" y="166.2" font-family="Liberation Sans" font-size="5.5" fill="#f03c3c" text-anchor="middle" font-weight="bold">O</text>
<line x1="57.8" y1="167.8" x2="57.8" y2="172.5" stroke="#b3b3b3" stroke-width="1.1"/>
<line x1="59.6" y1="167.8" x2="59.6" y2="172.5" stroke="#b3b3b3" stroke-width="1.1"/>
<text x="58.7" y="178.6" font-family="Liberation Sans" font-size="5.5" fill="#4a4af0" text-anchor="middle" font-weight="bold">N</text>
<text x="33" y="179" font-family="Liberation Sans" font-size="5" fill="#666" text-anchor="middle" font-weight="bold">H<tspan font-size="3.6" dy="1">3</tspan><tspan dy="-1">C</tspan></text>
<line x1="38.5" y1="177.5" x2="45.5" y2="181.5" stroke="#b3b3b3" stroke-width="1.1"/>
<text x="48" y="185" font-family="Liberation Sans" font-size="5.5" fill="#4a4af0" text-anchor="middle" font-weight="bold">N</text>
<line x1="50.5" y1="181.5" x2="56.2" y2="178" stroke="#b3b3b3" stroke-width="1.1"/>
<polyline points="48.5,186.5 48.5,194.3 38.3,199.8 38.3,212.8 27.2,218.9" fill="none" stroke="#b3b3b3" stroke-width="1.1" stroke-linejoin="round"/>
<text x="15.7" y="216" font-family="Liberation Sans" font-size="5.5" fill="#f03c3c" text-anchor="middle" font-weight="bold">O</text>
<line x1="18.5" y1="215" x2="26.8" y2="219.6" stroke="#b3b3b3" stroke-width="1.1"/>
<line x1="19.3" y1="213.2" x2="27.6" y2="217.8" stroke="#b3b3b3" stroke-width="1.1"/>
<line x1="27.2" y1="218.9" x2="27.2" y2="231.3" stroke="#b3b3b3" stroke-width="1.1"/>
<polygon points="27,231.3 37.4,237.3 37.4,249.3 27,255.3 16.6,249.3 16.6,237.3" fill="none" stroke="#b3b3b3" stroke-width="1.1" stroke-linejoin="round"/>
<line x1="27" y1="233.9" x2="35.1" y2="238.6" stroke="#b3b3b3" stroke-width="0.7"/>
<line x1="35.1" y1="248" x2="27" y2="252.7" stroke="#b3b3b3" stroke-width="0.7"/>
<line x1="18.9" y1="248" x2="18.9" y2="238.6" stroke="#b3b3b3" stroke-width="0.7"/>
<rect x="34.5" y="247" width="5" height="5.5" fill="#fff"/>
<text x="37.2" y="252.5" font-family="Liberation Sans" font-size="5.5" fill="#4a4af0" text-anchor="middle" font-weight="bold">N</text>
<polygon points="63.9,210.4 75.9,212.7 79.6,223.8 72.2,232.1 60.2,229.8 56.5,219.6" fill="none" stroke="#b3b3b3" stroke-width="1.1" stroke-linejoin="round"/>
<line x1="64.8" y1="212.8" x2="74.2" y2="214.6" stroke="#b3b3b3" stroke-width="0.7"/>
<line x1="77.1" y1="223.3" x2="71.3" y2="229.7" stroke="#b3b3b3" stroke-width="0.7"/>
<line x1="61.9" y1="228" x2="59" y2="220" stroke="#b3b3b3" stroke-width="0.7"/>
<polyline points="75.9,212.7 82.5,209.5" fill="none" stroke="#b3b3b3" stroke-width="1.1" stroke-linejoin="round"/>
<polyline points="88,209.5 93.5,213.1 91.2,223.8 79.6,223.8" fill="none" stroke="#b3b3b3" stroke-width="1.1" stroke-linejoin="round"/>
<line x1="90.5" y1="214.5" x2="88.8" y2="222.5" stroke="#b3b3b3" stroke-width="0.7"/>
<polygon points="93.5,213.1 105.6,210.8 113,220.1 109.3,229.8 99.1,232.1 91.2,223.8" fill="none" stroke="#b3b3b3" stroke-width="1.1" stroke-linejoin="round"/>
<line x1="104.8" y1="213.2" x2="110.6" y2="220.4" stroke="#b3b3b3" stroke-width="0.7"/>
<line x1="107.7" y1="228" x2="99.7" y2="229.8" stroke="#b3b3b3" stroke-width="0.7"/>
<rect x="110" y="216.5" width="6" height="6" fill="#fff"/>
<text x="113" y="222.2" font-family="Liberation Sans" font-size="5.5" fill="#4a4af0" text-anchor="middle" font-weight="bold">N</text>
<text x="85.2" y="207.6" font-family="Liberation Sans" font-size="5.2" fill="#4a4af0" text-anchor="middle" font-weight="bold">N</text>
<text x="85.2" y="203.2" font-family="Liberation Sans" font-size="4.2" fill="#4a4af0" text-anchor="middle" font-weight="bold">H</text>
<line x1="105.6" y1="210.8" x2="107.4" y2="204.8" stroke="#b3b3b3" stroke-width="1.1"/>
<text x="112" y="203" font-family="Liberation Sans" font-size="4.8" fill="#666" text-anchor="middle" font-weight="bold">CH<tspan font-size="3.6" dy="1">3</tspan></text>
<polygon points="142.8,194.9 150.6,199.4 150.6,208.4 142.8,212.9 135,208.4 135,199.4" fill="none" stroke="#b3b3b3" stroke-width="1.1" stroke-linejoin="round"/>
<polygon points="158.4,194.9 166.2,199.4 166.2,208.4 158.4,212.9 150.6,208.4 150.6,199.4" fill="none" stroke="#b3b3b3" stroke-width="1.1" stroke-linejoin="round"/>
<line x1="142.8" y1="196.9" x2="148.9" y2="200.4" stroke="#b3b3b3" stroke-width="0.7"/>
<line x1="136.7" y1="207.4" x2="136.7" y2="200.4" stroke="#b3b3b3" stroke-width="0.7"/>
<line x1="164.5" y1="200.4" x2="164.5" y2="207.4" stroke="#b3b3b3" stroke-width="0.7"/>
<line x1="158.4" y1="210.9" x2="152.3" y2="207.4" stroke="#b3b3b3" stroke-width="0.7"/>
<line x1="142.8" y1="212.9" x2="142.8" y2="218.3" stroke="#b3b3b3" stroke-width="1.1"/>
<text x="145.6" y="224" font-family="Liberation Sans" font-size="4.8" fill="#4a4af0" text-anchor="middle" font-weight="bold">NH<tspan font-size="3.4" dy="1">2</tspan></text>
<polygon points="185,188.2 191.6,192 191.6,199.6 185,203.4 178.4,199.6 178.4,192" fill="none" stroke="#b3b3b3" stroke-width="1.1" stroke-linejoin="round"/>
<polygon points="191.6,199.6 198.2,203.4 198.2,211 191.6,214.8 185,211 185,203.4" fill="none" stroke="#b3b3b3" stroke-width="1.1" stroke-linejoin="round"/>
<polygon points="185,211 191.6,214.8 191.6,222.4 185,226.2 178.4,222.4 178.4,214.8" fill="none" stroke="#b3b3b3" stroke-width="1.1" stroke-linejoin="round"/>
<polygon points="198.2,211 204.7,214.8 204.7,222.4 198.2,226.2 191.6,222.4 191.6,214.8" fill="none" stroke="#b3b3b3" stroke-width="1.1" stroke-linejoin="round"/>
<polygon points="191.6,222.4 198.2,226.2 198.2,233.8 191.6,237.6 185,233.8 185,226.2" fill="none" stroke="#b3b3b3" stroke-width="1.1" stroke-linejoin="round"/>
<line x1="185" y1="189.9" x2="190.1" y2="192.8" stroke="#b3b3b3" stroke-width="0.7"/>
<line x1="190.1" y1="198.8" x2="185" y2="201.7" stroke="#b3b3b3" stroke-width="0.7"/>
<line x1="179.9" y1="198.8" x2="179.9" y2="192.8" stroke="#b3b3b3" stroke-width="0.7"/>
<line x1="179.9" y1="221.6" x2="179.9" y2="215.6" stroke="#b3b3b3" stroke-width="0.7"/>
<line x1="203.3" y1="215.6" x2="203.3" y2="221.6" stroke="#b3b3b3" stroke-width="0.7"/>
<line x1="196.7" y1="233" x2="191.6" y2="235.9" stroke="#b3b3b3" stroke-width="0.7"/>
<line x1="186.4" y1="233" x2="186.4" y2="227" stroke="#b3b3b3" stroke-width="0.7"/>
<text x="222.6" y="191.4" font-family="Liberation Sans" font-size="5.5" fill="#f03c3c" text-anchor="middle" font-weight="bold">O</text>
<text x="226.2" y="187" font-family="Liberation Sans" font-size="4" fill="#f03c3c" text-anchor="middle" font-weight="bold">-</text>
<line x1="225" y1="191" x2="229.5" y2="193.5" stroke="#b3b3b3" stroke-width="1.1"/>
<text x="231.9" y="197" font-family="Liberation Sans" font-size="5.5" fill="#4a4af0" text-anchor="middle" font-weight="bold">N</text>
<text x="235" y="193" font-family="Liberation Sans" font-size="3.5" fill="#4a4af0" text-anchor="middle" font-weight="bold">+</text>
<line x1="231" y1="199" x2="231" y2="203.5" stroke="#b3b3b3" stroke-width="1.1"/>
<line x1="232.8" y1="199" x2="232.8" y2="203.5" stroke="#b3b3b3" stroke-width="1.1"/>
<text x="231.9" y="208.2" font-family="Liberation Sans" font-size="5.5" fill="#f03c3c" text-anchor="middle" font-weight="bold">O</text>
<line x1="234.5" y1="193" x2="239" y2="189.5" stroke="#b3b3b3" stroke-width="1.1"/>
<text x="241.1" y="189.6" font-family="Liberation Sans" font-size="5.2" fill="#4a4af0" text-anchor="middle" font-weight="bold">N</text>
<text x="241.1" y="185" font-family="Liberation Sans" font-size="4.2" fill="#4a4af0" text-anchor="middle" font-weight="bold">H</text>
<line x1="243.5" y1="188.5" x2="250" y2="194" stroke="#b3b3b3" stroke-width="1.1"/>
<line x1="250" y1="194" x2="256.5" y2="190.5" stroke="#b3b3b3" stroke-width="1.1"/>
<line x1="250" y1="194" x2="250" y2="201.5" stroke="#b3b3b3" stroke-width="1.1"/>
<line x1="251.5" y1="194" x2="251.5" y2="201.5" stroke="#b3b3b3" stroke-width="1.1"/>
<text x="252.2" y="208.6" font-family="Liberation Sans" font-size="5" fill="#4a4af0" text-anchor="middle" font-weight="bold">NH</text>
<text x="258.9" y="192" font-family="Liberation Sans" font-size="5.5" fill="#4a4af0" text-anchor="middle" font-weight="bold">N</text>
<line x1="259.5" y1="187" x2="261" y2="182" stroke="#b3b3b3" stroke-width="1.1"/>
<text x="264" y="181" font-family="Liberation Sans" font-size="5" fill="#666" text-anchor="middle" font-weight="bold">CH<tspan font-size="3.6" dy="1">3</tspan></text>
<line x1="261.5" y1="191.5" x2="266.5" y2="194.5" stroke="#b3b3b3" stroke-width="1.1"/>
<text x="268.9" y="197" font-family="Liberation Sans" font-size="5.5" fill="#4a4af0" text-anchor="middle" font-weight="bold">N</text>
<line x1="271.5" y1="194" x2="276" y2="191.5" stroke="#b3b3b3" stroke-width="1.1"/>
<line x1="270.8" y1="192.5" x2="275.3" y2="190" stroke="#b3b3b3" stroke-width="1.1"/>
<text x="278.1" y="192" font-family="Liberation Sans" font-size="5.5" fill="#f03c3c" text-anchor="middle" font-weight="bold">O</text>
<polygon points="214.9,220.6 227.5,223 228.7,231.5 220.3,239.9 212.4,237.5 209.4,227.9" fill="none" stroke="#b3b3b3" stroke-width="1.1" stroke-linejoin="round"/>
<line x1="215.8" y1="222.7" x2="225.6" y2="224.6" stroke="#b3b3b3" stroke-width="0.7"/>
<line x1="226.5" y1="231.2" x2="220" y2="237.7" stroke="#b3b3b3" stroke-width="0.7"/>
<line x1="213.8" y1="235.9" x2="211.5" y2="228.4" stroke="#b3b3b3" stroke-width="0.7"/>
<polyline points="227.5,223 231.2,219" fill="none" stroke="#b3b3b3" stroke-width="1.1" stroke-linejoin="round"/>
<polyline points="236.5,219 240.7,223 239.5,231.5 228.7,231.5" fill="none" stroke="#b3b3b3" stroke-width="1.1" stroke-linejoin="round"/>
<line x1="238.2" y1="224.5" x2="237.5" y2="230" stroke="#b3b3b3" stroke-width="0.7"/>
<polygon points="240.7,223 252.8,220.6 258.2,228.5 256.4,236.3 245.5,239.3 239.5,231.5" fill="none" stroke="#b3b3b3" stroke-width="1.1" stroke-linejoin="round"/>
<line x1="251.9" y1="222.6" x2="256.1" y2="228.8" stroke="#b3b3b3" stroke-width="0.7"/>
<line x1="254.7" y1="234.9" x2="246.2" y2="237.2" stroke="#b3b3b3" stroke-width="0.7"/>
<rect x="255.2" y="225" width="6" height="6" fill="#fff"/>
<text x="258.2" y="230.5" font-family="Liberation Sans" font-size="5.5" fill="#4a4af0" text-anchor="middle" font-weight="bold">N</text>
<text x="233.7" y="218.6" font-family="Liberation Sans" font-size="5.2" fill="#4a4af0" text-anchor="middle" font-weight="bold">N</text>
<text x="233.7" y="214.2" font-family="Liberation Sans" font-size="4.2" fill="#4a4af0" text-anchor="middle" font-weight="bold">H</text>
<polygon points="64.4,247.4 72.9,252.3 72.9,262.1 64.4,267 55.9,262.1 55.9,252.3" fill="none" stroke="#b3b3b3" stroke-width="1.1" stroke-linejoin="round"/>
<polygon points="64.4,277.2 72.9,282.1 72.9,291.9 64.4,296.8 55.9,291.9 55.9,282.1" fill="none" stroke="#b3b3b3" stroke-width="1.1" stroke-linejoin="round"/>
<line x1="71" y1="253.4" x2="71" y2="261" stroke="#b3b3b3" stroke-width="0.7"/>
<line x1="64.4" y1="264.8" x2="57.8" y2="261" stroke="#b3b3b3" stroke-width="0.7"/>
<line x1="57.8" y1="253.4" x2="64.4" y2="249.6" stroke="#b3b3b3" stroke-width="0.7"/>
<line x1="64.4" y1="279.4" x2="71" y2="283.2" stroke="#b3b3b3" stroke-width="0.7"/>
<line x1="71" y1="290.8" x2="64.4" y2="294.6" stroke="#b3b3b3" stroke-width="0.7"/>
<line x1="57.8" y1="290.8" x2="57.8" y2="283.2" stroke="#b3b3b3" stroke-width="0.7"/>
<line x1="64.4" y1="267" x2="64.4" y2="277.2" stroke="#b3b3b3" stroke-width="1.1"/>
<line x1="55.9" y1="291.9" x2="51.5" y2="294.8" stroke="#b3b3b3" stroke-width="1.1"/>
<text x="45.5" y="299.8" font-family="Liberation Sans" font-size="4.8" fill="#4a4af0" text-anchor="middle" font-weight="bold">H<tspan font-size="3.4" dy="1">2</tspan><tspan dy="-1">N</tspan></text>
<text x="900.6" y="123.3" font-family="Liberation Sans" font-size="9.6" font-weight="bold" fill="#555555" textLength="17.7" lengthAdjust="spacingAndGlyphs">H<tspan font-size="6.5" dy="2">3</tspan><tspan dy="-2">C</tspan></text>
<line x1="923.5" y1="123.1" x2="930.5" y2="127.2" stroke="#777" stroke-width="1.1"/>
<text x="937" y="136.6" font-family="Liberation Sans" font-size="10.5" font-weight="bold" fill="#a9ae16" text-anchor="middle">S</text>
<line x1="943.8" y1="124.1" x2="952.5" y2="119.6" stroke="#777" stroke-width="1.1"/>
<line x1="945" y1="127" x2="953.6" y2="122.4" stroke="#777" stroke-width="1.1"/>
<text x="958.7" y="124" font-family="Liberation Sans" font-size="10.5" font-weight="bold" fill="#f02a2a" text-anchor="middle">O</text>
<line x1="937.5" y1="138.9" x2="937.5" y2="148" stroke="#777" stroke-width="1.1"/>
<text x="935.4" y="161" font-family="Liberation Sans" font-size="9.6" font-weight="bold" fill="#555555" textLength="18.8" lengthAdjust="spacingAndGlyphs">CH<tspan font-size="6.5" dy="2">3</tspan></text>
<path d="M216.5,244 C215,238 213,233 212.5,228" fill="none" stroke="#c4c4c4" stroke-width="2.6" stroke-linecap="round" opacity="0.75"/>
<g transform="translate(212.4,252.6) rotate(32)"><rect x="-2.5" y="-1.5" width="5" height="10" fill="#f7f7f7" stroke="#9a9a9a" stroke-width="0.6"/><rect x="-2.5" y="-8.5" width="5" height="7.5" rx="1.5" fill="#4f4f4f"/><rect x="-1.2" y="-7.8" width="1.6" height="5" fill="#8a8a8a"/></g>
<path d="M84.5,244.5 C95,248.5 106,253.5 115.9,255.5 C130,252 146,244.5 160.6,243.5 C166,243.3 171,245.5 175.7,247 C182,248.5 188,249 192.8,250.2 C199,252.5 203,254.5 206.7,256.7 C210.5,259 214,261 216.9,263.1 C219,264.5 219.2,267.5 216,268.7 C213,269.3 210.5,268.8 208.5,268.4 C211,270.5 213.5,273.5 215.5,276.3 C217.8,278.5 218.8,281.2 216.5,283 C214.5,284.3 212,283.8 209.5,282.2 C206,280 203,278 200,276 C196,274 192,272 189,271 C187.5,273 186.5,275 186.3,277 C188,278.5 189.2,281 188.7,283.5 C188,286.5 186,288.2 183.9,288.3 L181.2,289.3 C181,294 180.5,299 179.3,302 C178.5,305 177.5,306.8 176,306.6 C173.8,306.3 173,304 172.8,301 C172.6,298 171.8,295.5 171.6,293.4 L168.8,293 C168,295.5 166.5,298.6 165,299.3 C163,299.6 162,297.5 161.5,295.5 L160.6,290.2 C153,291.8 145,292.4 137.2,292.3 C130,291.6 123,290 117.1,288.1 C113,286 109.5,283.8 106.4,282.2 C98,279 89,276.5 81.3,274.5 C81.5,265 83,254 84.5,244.5 Z" fill="#fcd6c8" stroke="#dfa896" stroke-width="0.8" stroke-linejoin="round" stroke-linecap="round"/>
<path d="M155,277.3 C157,273.5 158.5,270 160.6,267.3 C162,270.5 163.5,274 165,277.3 Z" fill="#ffffff" stroke="#dfa896" stroke-width="0.8" stroke-linejoin="round" stroke-linecap="round"/>
<path d="M208.5,268.4 C204,266.5 200,265 197.4,264.1 C192,262 187,260.5 183.5,259.9 C180,259.8 178,260.3 176.1,260.8 C170,262.5 165,265 160.6,267.3" fill="none" stroke="#dfa896" stroke-width="0.7" stroke-linecap="round" stroke-linejoin="round"/>
<path d="M176.1,260.8 C180,264 183,267.5 184.6,270.8 C185.5,273 186,275 186.3,277" fill="none" stroke="#dfa896" stroke-width="0.7" stroke-linecap="round" stroke-linejoin="round"/>
<path d="M166.9,266.9 C168.5,270 170.5,274 172.4,277.2" fill="none" stroke="#dfa896" stroke-width="0.7" stroke-linecap="round" stroke-linejoin="round"/>
<path d="M153.7,277.3 C165,277 176,277 186.3,277" fill="none" stroke="#dfa896" stroke-width="0.7" stroke-linecap="round" stroke-linejoin="round"/>
<path d="M183.2,279.2 C182.5,282 182.4,285 183,288" fill="none" stroke="#dfa896" stroke-width="0.7" stroke-linecap="round" stroke-linejoin="round"/>
<path d="M160.6,290.2 C164,289.4 167,289 169,289 M171.6,289.4 L174,289.2" fill="none" stroke="#dfa896" stroke-width="0.7" stroke-linecap="round" stroke-linejoin="round"/>
<path d="M158,245.5 C164,246 169,247 174,248.5" fill="none" stroke="#dfa896" stroke-width="0.7" stroke-linecap="round" stroke-linejoin="round"/>
<g transform="translate(201.1,269) rotate(32)"><rect x="-3.2" y="-3.3" width="6.4" height="6.6" fill="#f7b51e" stroke="#d99410" stroke-width="0.6"/><line x1="-3.2" y1="0.6" x2="3.2" y2="0.6" stroke="#fbd36a" stroke-width="0.8"/></g>
<line x1="243.2" y1="312.6" x2="243.2" y2="414.84" stroke="#555" stroke-width="0.8"/>
<line x1="238.7" y1="312.6" x2="243.2" y2="312.6" stroke="#555" stroke-width="0.8"/>
<text x="238.2" y="315.9" font-family="Liberation Sans" font-size="7.4" fill="#2a2a2a" stroke="#2a2a2a" stroke-width="0.3" text-anchor="end">12%</text>
<line x1="240.7" y1="329.64" x2="243.2" y2="329.64" stroke="#555" stroke-width="0.8"/>
<line x1="238.7" y1="346.68" x2="243.2" y2="346.68" stroke="#555" stroke-width="0.8"/>
<text x="238.2" y="349.98" font-family="Liberation Sans" font-size="7.4" fill="#2a2a2a" stroke="#2a2a2a" stroke-width="0.3" text-anchor="end">8%</text>
<line x1="240.7" y1="363.72" x2="243.2" y2="363.72" stroke="#555" stroke-width="0.8"/>
<line x1="238.7" y1="380.76" x2="243.2" y2="380.76" stroke="#555" stroke-width="0.8"/>
<text x="238.2" y="384.06" font-family="Liberation Sans" font-size="7.4" fill="#2a2a2a" stroke="#2a2a2a" stroke-width="0.3" text-anchor="end">4%</text>
<line x1="240.7" y1="397.8" x2="243.2" y2="397.8" stroke="#555" stroke-width="0.8"/>
<line x1="238.7" y1="414.84" x2="243.2" y2="414.84" stroke="#555" stroke-width="0.8"/>
<text x="238.2" y="418.14" font-family="Liberation Sans" font-size="7.4" fill="#2a2a2a" stroke="#2a2a2a" stroke-width="0.3" text-anchor="end">0%</text>
<text x="245" y="308.4" font-family="Liberation Sans" font-size="8.5" font-weight="bold" font-style="italic" fill="#111" stroke="#111" stroke-width="0.15" textLength="16" lengthAdjust="spacingAndGlyphs">BaP</text>
<text transform="translate(174.5,367.7) rotate(-90 41 -1.7)" x="0" y="0" font-family="Liberation Sans" font-size="5.0" fill="#3a3a3a" stroke="#3a3a3a" stroke-width="0.12" textLength="82" lengthAdjust="spacingAndGlyphs">SBS trinucleotide probability (%)</text>
<line x1="243.2" y1="414.8" x2="567.2" y2="414.8" stroke="#555" stroke-width="0.8"/>
<rect x="244.6" y="392.65" width="2.3" height="22.15" fill="#22c4f6"/>
<rect x="247.7" y="390.09" width="2.3" height="24.71" fill="#22c4f6"/>
<rect x="250.8" y="405.43" width="2.3" height="9.37" fill="#22c4f6"/>
<rect x="253.9" y="398.61" width="2.3" height="16.19" fill="#22c4f6"/>
<rect x="257" y="361.98" width="2.3" height="52.82" fill="#22c4f6"/>
<rect x="260.1" y="322.78" width="2.3" height="92.02" fill="#22c4f6"/>
<rect x="263.2" y="398.61" width="2.3" height="16.19" fill="#22c4f6"/>
<rect x="266.3" y="355.16" width="2.3" height="59.64" fill="#22c4f6"/>
<rect x="269.4" y="397.76" width="2.3" height="17.04" fill="#22c4f6"/>
<rect x="272.5" y="372.2" width="2.3" height="42.6" fill="#22c4f6"/>
<rect x="275.6" y="402.02" width="2.3" height="12.78" fill="#22c4f6"/>
<rect x="278.7" y="402.02" width="2.3" height="12.78" fill="#22c4f6"/>
<rect x="281.8" y="391.8" width="2.3" height="23" fill="#22c4f6"/>
<rect x="284.9" y="355.16" width="2.3" height="59.64" fill="#22c4f6"/>
<rect x="288" y="407.13" width="2.3" height="7.67" fill="#22c4f6"/>
<rect x="291.1" y="377.31" width="2.3" height="37.49" fill="#22c4f6"/>
<rect x="299.2" y="410.03" width="2.3" height="4.77" fill="#111111"/>
<rect x="302.3" y="411.14" width="2.3" height="3.66" fill="#111111"/>
<rect x="305.4" y="412.16" width="2.3" height="2.64" fill="#111111"/>
<rect x="308.5" y="412.16" width="2.3" height="2.64" fill="#111111"/>
<rect x="311.6" y="409.26" width="2.3" height="5.54" fill="#111111"/>
<rect x="314.7" y="404.92" width="2.3" height="9.88" fill="#111111"/>
<rect x="317.8" y="411.48" width="2.3" height="3.32" fill="#111111"/>
<rect x="320.9" y="407.81" width="2.3" height="6.99" fill="#111111"/>
<rect x="324" y="410.03" width="2.3" height="4.77" fill="#111111"/>
<rect x="327.1" y="405.6" width="2.3" height="9.2" fill="#111111"/>
<rect x="330.2" y="411.48" width="2.3" height="3.32" fill="#111111"/>
<rect x="333.3" y="412.16" width="2.3" height="2.64" fill="#111111"/>
<rect x="336.4" y="410.71" width="2.3" height="4.09" fill="#111111"/>
<rect x="339.5" y="406.62" width="2.3" height="8.18" fill="#111111"/>
<rect x="342.6" y="412.93" width="2.3" height="1.87" fill="#111111"/>
<rect x="345.7" y="407.81" width="2.3" height="6.99" fill="#111111"/>
<rect x="353.8" y="404.92" width="2.3" height="9.88" fill="#f41a1a"/>
<rect x="356.9" y="404.15" width="2.3" height="10.65" fill="#f41a1a"/>
<rect x="360" y="411.14" width="2.3" height="3.66" fill="#f41a1a"/>
<rect x="363.1" y="407.05" width="2.3" height="7.75" fill="#f41a1a"/>
<rect x="366.2" y="405.34" width="2.3" height="9.46" fill="#f41a1a"/>
<rect x="369.3" y="395.89" width="2.3" height="18.91" fill="#f41a1a"/>
<rect x="372.4" y="409.52" width="2.3" height="5.28" fill="#f41a1a"/>
<rect x="375.5" y="387.11" width="2.3" height="27.69" fill="#f41a1a"/>
<rect x="378.6" y="410.45" width="2.3" height="4.35" fill="#f41a1a"/>
<rect x="381.7" y="401.51" width="2.3" height="13.29" fill="#f41a1a"/>
<rect x="384.8" y="410.71" width="2.3" height="4.09" fill="#f41a1a"/>
<rect x="387.9" y="407.05" width="2.3" height="7.75" fill="#f41a1a"/>
<rect x="391" y="408.07" width="2.3" height="6.73" fill="#f41a1a"/>
<rect x="394.1" y="402.28" width="2.3" height="12.52" fill="#f41a1a"/>
<rect x="397.2" y="413.61" width="2.3" height="1.19" fill="#f41a1a"/>
<rect x="400.3" y="402.28" width="2.3" height="12.52" fill="#f41a1a"/>
<rect x="408.4" y="410.54" width="2.3" height="4.26" fill="#c6c6c6"/>
<rect x="411.5" y="413.78" width="2.3" height="1.02" fill="#c6c6c6"/>
<rect x="414.6" y="412.24" width="2.3" height="2.56" fill="#c6c6c6"/>
<rect x="417.7" y="412.24" width="2.3" height="2.56" fill="#c6c6c6"/>
<rect x="420.8" y="413.78" width="2.3" height="1.02" fill="#c6c6c6"/>
<rect x="423.9" y="413.78" width="2.3" height="1.02" fill="#c6c6c6"/>
<rect x="427" y="410.54" width="2.3" height="4.26" fill="#c6c6c6"/>
<rect x="430.1" y="413.78" width="2.3" height="1.02" fill="#c6c6c6"/>
<rect x="433.2" y="413.78" width="2.3" height="1.02" fill="#c6c6c6"/>
<rect x="436.3" y="413.78" width="2.3" height="1.02" fill="#c6c6c6"/>
<rect x="439.4" y="413.78" width="2.3" height="1.02" fill="#c6c6c6"/>
<rect x="442.5" y="413.78" width="2.3" height="1.02" fill="#c6c6c6"/>
<rect x="445.6" y="411.39" width="2.3" height="3.41" fill="#c6c6c6"/>
<rect x="448.7" y="413.78" width="2.3" height="1.02" fill="#c6c6c6"/>
<rect x="451.8" y="413.78" width="2.3" height="1.02" fill="#c6c6c6"/>
<rect x="454.9" y="413.78" width="2.3" height="1.02" fill="#c6c6c6"/>
<rect x="463" y="410.97" width="2.3" height="3.83" fill="#24ec24"/>
<rect x="466.1" y="413.1" width="2.3" height="1.7" fill="#24ec24"/>
<rect x="469.2" y="412.24" width="2.3" height="2.56" fill="#24ec24"/>
<rect x="472.3" y="413.1" width="2.3" height="1.7" fill="#24ec24"/>
<rect x="475.4" y="407.98" width="2.3" height="6.82" fill="#24ec24"/>
<rect x="478.5" y="413.1" width="2.3" height="1.7" fill="#24ec24"/>
<rect x="481.6" y="412.24" width="2.3" height="2.56" fill="#24ec24"/>
<rect x="484.7" y="410.97" width="2.3" height="3.83" fill="#24ec24"/>
<rect x="487.8" y="413.1" width="2.3" height="1.7" fill="#24ec24"/>
<rect x="490.9" y="413.1" width="2.3" height="1.7" fill="#24ec24"/>
<rect x="494" y="413.1" width="2.3" height="1.7" fill="#24ec24"/>
<rect x="497.1" y="413.1" width="2.3" height="1.7" fill="#24ec24"/>
<rect x="500.2" y="413.1" width="2.3" height="1.7" fill="#24ec24"/>
<rect x="503.3" y="413.1" width="2.3" height="1.7" fill="#24ec24"/>
<rect x="506.4" y="413.1" width="2.3" height="1.7" fill="#24ec24"/>
<rect x="509.5" y="413.1" width="2.3" height="1.7" fill="#24ec24"/>
<rect x="517.6" y="413.78" width="2.3" height="1.02" fill="#eba2d8"/>
<rect x="520.7" y="413.78" width="2.3" height="1.02" fill="#eba2d8"/>
<rect x="523.8" y="413.1" width="2.3" height="1.7" fill="#eba2d8"/>
<rect x="526.9" y="413.78" width="2.3" height="1.02" fill="#eba2d8"/>
<rect x="530" y="413.78" width="2.3" height="1.02" fill="#eba2d8"/>
<rect x="533.1" y="413.78" width="2.3" height="1.02" fill="#eba2d8"/>
<rect x="536.2" y="412.67" width="2.3" height="2.13" fill="#eba2d8"/>
<rect x="539.3" y="413.78" width="2.3" height="1.02" fill="#eba2d8"/>
<rect x="542.4" y="413.78" width="2.3" height="1.02" fill="#eba2d8"/>
<rect x="545.5" y="413.78" width="2.3" height="1.02" fill="#eba2d8"/>
<rect x="548.6" y="413.78" width="2.3" height="1.02" fill="#eba2d8"/>
<rect x="551.7" y="413.78" width="2.3" height="1.02" fill="#eba2d8"/>
<rect x="554.8" y="413.78" width="2.3" height="1.02" fill="#eba2d8"/>
<rect x="557.9" y="413.78" width="2.3" height="1.02" fill="#eba2d8"/>
<rect x="561" y="412.24" width="2.3" height="2.56" fill="#eba2d8"/>
<rect x="564.1" y="413.78" width="2.3" height="1.02" fill="#eba2d8"/>
<text x="244.6" y="420" font-family="Liberation Sans" font-size="3.6" fill="#6f6f6f" textLength="48.8" lengthAdjust="spacingAndGlyphs">A.C.G.T.A.C.G.T.A.C.G.T.A.C.G.T</text>
<text x="244.6" y="423.4" font-family="Liberation Sans" font-size="3.6" fill="#6f6f6f" textLength="48.8" lengthAdjust="spacingAndGlyphs">AAAACCCCGGGGTTTT</text>
<text x="299.2" y="420" font-family="Liberation Sans" font-size="3.6" fill="#6f6f6f" textLength="48.8" lengthAdjust="spacingAndGlyphs">A.C.G.T.A.C.G.T.A.C.G.T.A.C.G.T</text>
<text x="299.2" y="423.4" font-family="Liberation Sans" font-size="3.6" fill="#6f6f6f" textLength="48.8" lengthAdjust="spacingAndGlyphs">AAAACCCCGGGGTTTT</text>
<text x="353.8" y="420" font-family="Liberation Sans" font-size="3.6" fill="#6f6f6f" textLength="48.8" lengthAdjust="spacingAndGlyphs">A.C.G.T.A.C.G.T.A.C.G.T.A.C.G.T</text>
<text x="353.8" y="423.4" font-family="Liberation Sans" font-size="3.6" fill="#6f6f6f" textLength="48.8" lengthAdjust="spacingAndGlyphs">AAAACCCCGGGGTTTT</text>
<text x="408.4" y="420" font-family="Liberation Sans" font-size="3.6" fill="#6f6f6f" textLength="48.8" lengthAdjust="spacingAndGlyphs">A.C.G.T.A.C.G.T.A.C.G.T.A.C.G.T</text>
<text x="408.4" y="423.4" font-family="Liberation Sans" font-size="3.6" fill="#6f6f6f" textLength="48.8" lengthAdjust="spacingAndGlyphs">AAAACCCCGGGGTTTT</text>
<text x="463" y="420" font-family="Liberation Sans" font-size="3.6" fill="#6f6f6f" textLength="48.8" lengthAdjust="spacingAndGlyphs">A.C.G.T.A.C.G.T.A.C.G.T.A.C.G.T</text>
<text x="463" y="423.4" font-family="Liberation Sans" font-size="3.6" fill="#6f6f6f" textLength="48.8" lengthAdjust="spacingAndGlyphs">AAAACCCCGGGGTTTT</text>
<text x="517.6" y="420" font-family="Liberation Sans" font-size="3.6" fill="#6f6f6f" textLength="48.8" lengthAdjust="spacingAndGlyphs">A.C.G.T.A.C.G.T.A.C.G.T.A.C.G.T</text>
<text x="517.6" y="423.4" font-family="Liberation Sans" font-size="3.6" fill="#6f6f6f" textLength="48.8" lengthAdjust="spacingAndGlyphs">AAAACCCCGGGGTTTT</text>
<text x="592.5" y="306.3" font-family="Liberation Sans" font-size="8.5" font-weight="bold" font-style="italic" fill="#111" stroke="#111" stroke-width="0.15" textLength="48.2" lengthAdjust="spacingAndGlyphs">Norharmane</text>
<line x1="590.8" y1="414.3" x2="918.8" y2="414.3" stroke="#555" stroke-width="0.8"/>
<rect x="594.7" y="391.6" width="2.3" height="22.7" fill="#22c4f6"/>
<rect x="597.86" y="400.1" width="2.3" height="14.2" fill="#22c4f6"/>
<rect x="601.02" y="392.3" width="2.3" height="22" fill="#22c4f6"/>
<rect x="604.18" y="331.8" width="2.3" height="82.5" fill="#22c4f6"/>
<rect x="607.34" y="318.6" width="2.3" height="95.7" fill="#22c4f6"/>
<rect x="610.5" y="379.2" width="2.3" height="35.1" fill="#22c4f6"/>
<rect x="613.66" y="316.4" width="2.3" height="97.9" fill="#22c4f6"/>
<rect x="616.82" y="396" width="2.3" height="18.3" fill="#22c4f6"/>
<rect x="619.98" y="400.1" width="2.3" height="14.2" fill="#22c4f6"/>
<rect x="623.14" y="405.3" width="2.3" height="9" fill="#22c4f6"/>
<rect x="626.3" y="399.2" width="2.3" height="15.1" fill="#22c4f6"/>
<rect x="629.46" y="401" width="2.3" height="13.3" fill="#22c4f6"/>
<rect x="632.62" y="383" width="2.3" height="31.3" fill="#22c4f6"/>
<rect x="635.78" y="409" width="2.3" height="5.3" fill="#22c4f6"/>
<rect x="638.94" y="378.8" width="2.3" height="35.5" fill="#22c4f6"/>
<rect x="659.35" y="404.1" width="2.3" height="10.2" fill="#111111"/>
<rect x="675.05" y="408.8" width="2.3" height="5.5" fill="#111111"/>
<rect x="684.55" y="407.7" width="2.3" height="6.6" fill="#111111"/>
<rect x="693.95" y="406.9" width="2.3" height="7.4" fill="#111111"/>
<rect x="701.85" y="408.8" width="2.3" height="5.5" fill="#f41a1a"/>
<rect x="705.35" y="406.7" width="2.3" height="7.6" fill="#f41a1a"/>
<rect x="708.45" y="409.6" width="2.3" height="4.7" fill="#f41a1a"/>
<rect x="714.75" y="408.8" width="2.3" height="5.5" fill="#f41a1a"/>
<rect x="717.95" y="389.4" width="2.3" height="24.9" fill="#f41a1a"/>
<rect x="720.75" y="400.1" width="2.3" height="14.2" fill="#f41a1a"/>
<rect x="723.85" y="371.5" width="2.3" height="42.8" fill="#f41a1a"/>
<rect x="730.15" y="408.8" width="2.3" height="5.5" fill="#f41a1a"/>
<rect x="733.65" y="404.1" width="2.3" height="10.2" fill="#f41a1a"/>
<rect x="739.95" y="393" width="2.3" height="21.3" fill="#f41a1a"/>
<rect x="743.15" y="407.7" width="2.3" height="6.6" fill="#f41a1a"/>
<rect x="746.25" y="410.4" width="2.3" height="3.9" fill="#f41a1a"/>
<rect x="749.45" y="403.3" width="2.3" height="11" fill="#f41a1a"/>
<rect x="757.25" y="410.6" width="2.3" height="3.7" fill="#c6c6c6"/>
<rect x="769.75" y="407.8" width="2.3" height="6.5" fill="#c6c6c6"/>
<rect x="776.25" y="407.8" width="2.3" height="6.5" fill="#c6c6c6"/>
<rect x="782.45" y="403.5" width="2.3" height="10.8" fill="#c6c6c6"/>
<rect x="788.55" y="386.3" width="2.3" height="28" fill="#c6c6c6"/>
<rect x="792.15" y="407.8" width="2.3" height="6.5" fill="#c6c6c6"/>
<rect x="812.65" y="405" width="2.3" height="9.3" fill="#24ec24"/>
<rect x="856.45" y="406.8" width="2.3" height="7.5" fill="#24ec24"/>
<rect x="871.05" y="407.8" width="2.3" height="6.5" fill="#eba2d8"/>
<rect x="874.45" y="410.6" width="2.3" height="3.7" fill="#eba2d8"/>
<rect x="899.05" y="396.6" width="2.3" height="17.7" fill="#eba2d8"/>
<rect x="902.35" y="410.6" width="2.3" height="3.7" fill="#eba2d8"/>
<rect x="905.55" y="394.7" width="2.3" height="19.6" fill="#eba2d8"/>
<rect x="911.75" y="406.8" width="2.3" height="7.5" fill="#eba2d8"/>
<text x="594.6" y="419.5" font-family="Liberation Sans" font-size="3.6" fill="#6f6f6f" textLength="48.8" lengthAdjust="spacingAndGlyphs">A.C.G.T.A.C.G.T.A.C.G.T.A.C.G.T</text>
<text x="594.6" y="422.9" font-family="Liberation Sans" font-size="3.6" fill="#6f6f6f" textLength="48.8" lengthAdjust="spacingAndGlyphs">AAAACCCCGGGGTTTT</text>
<text x="648.4" y="419.5" font-family="Liberation Sans" font-size="3.6" fill="#6f6f6f" textLength="48.8" lengthAdjust="spacingAndGlyphs">A.C.G.T.A.C.G.T.A.C.G.T.A.C.G.T</text>
<text x="648.4" y="422.9" font-family="Liberation Sans" font-size="3.6" fill="#6f6f6f" textLength="48.8" lengthAdjust="spacingAndGlyphs">AAAACCCCGGGGTTTT</text>
<text x="702.2" y="419.5" font-family="Liberation Sans" font-size="3.6" fill="#6f6f6f" textLength="48.8" lengthAdjust="spacingAndGlyphs">A.C.G.T.A.C.G.T.A.C.G.T.A.C.G.T</text>
<text x="702.2" y="422.9" font-family="Liberation Sans" font-size="3.6" fill="#6f6f6f" textLength="48.8" lengthAdjust="spacingAndGlyphs">AAAACCCCGGGGTTTT</text>
<text x="756" y="419.5" font-family="Liberation Sans" font-size="3.6" fill="#6f6f6f" textLength="48.8" lengthAdjust="spacingAndGlyphs">A.C.G.T.A.C.G.T.A.C.G.T.A.C.G.T</text>
<text x="756" y="422.9" font-family="Liberation Sans" font-size="3.6" fill="#6f6f6f" textLength="48.8" lengthAdjust="spacingAndGlyphs">AAAACCCCGGGGTTTT</text>
<text x="809.8" y="419.5" font-family="Liberation Sans" font-size="3.6" fill="#6f6f6f" textLength="48.8" lengthAdjust="spacingAndGlyphs">A.C.G.T.A.C.G.T.A.C.G.T.A.C.G.T</text>
<text x="809.8" y="422.9" font-family="Liberation Sans" font-size="3.6" fill="#6f6f6f" textLength="48.8" lengthAdjust="spacingAndGlyphs">AAAACCCCGGGGTTTT</text>
<text x="863.6" y="419.5" font-family="Liberation Sans" font-size="3.6" fill="#6f6f6f" textLength="48.8" lengthAdjust="spacingAndGlyphs">A.C.G.T.A.C.G.T.A.C.G.T.A.C.G.T</text>
<text x="863.6" y="422.9" font-family="Liberation Sans" font-size="3.6" fill="#6f6f6f" textLength="48.8" lengthAdjust="spacingAndGlyphs">AAAACCCCGGGGTTTT</text>
<rect x="920.4" y="315.6" width="10.8" height="5" fill="#22c4f6"/>
<text x="937" y="321" font-family="Liberation Sans" font-size="8.3" fill="#2a2a2a" stroke="#2a2a2a" stroke-width="0.25" textLength="21.6" lengthAdjust="spacingAndGlyphs">C &gt; A</text>
<rect x="920.4" y="329.4" width="10.8" height="5" fill="#111111"/>
<text x="937" y="334.8" font-family="Liberation Sans" font-size="8.3" fill="#2a2a2a" stroke="#2a2a2a" stroke-width="0.25" textLength="21.6" lengthAdjust="spacingAndGlyphs">C &gt; G</text>
<rect x="920.4" y="343.2" width="10.8" height="5" fill="#f41a1a"/>
<text x="937" y="348.6" font-family="Liberation Sans" font-size="8.3" fill="#2a2a2a" stroke="#2a2a2a" stroke-width="0.25" textLength="21.6" lengthAdjust="spacingAndGlyphs">C &gt; T</text>
<rect x="920.4" y="357" width="10.8" height="5" fill="#c6c6c6"/>
<text x="937" y="362.4" font-family="Liberation Sans" font-size="8.3" fill="#2a2a2a" stroke="#2a2a2a" stroke-width="0.25" textLength="21.6" lengthAdjust="spacingAndGlyphs">T &gt; A</text>
<rect x="920.4" y="370.8" width="10.8" height="5" fill="#24ec24"/>
<text x="937" y="376.2" font-family="Liberation Sans" font-size="8.3" fill="#2a2a2a" stroke="#2a2a2a" stroke-width="0.25" textLength="21.6" lengthAdjust="spacingAndGlyphs">T &gt; C</text>
<rect x="920.4" y="384.6" width="10.8" height="5" fill="#eba2d8"/>
<text x="937" y="390" font-family="Liberation Sans" font-size="8.3" fill="#2a2a2a" stroke="#2a2a2a" stroke-width="0.25" textLength="21.6" lengthAdjust="spacingAndGlyphs">T &gt; G</text>
<line x1="70" y1="459.1" x2="70" y2="545" stroke="#555" stroke-width="0.8"/>
<line x1="65.5" y1="459.1" x2="70" y2="459.1" stroke="#555" stroke-width="0.8"/>
<text x="65" y="462.4" font-family="Liberation Sans" font-size="7.4" fill="#2a2a2a" stroke="#2a2a2a" stroke-width="0.3" text-anchor="end">12%</text>
<line x1="67.5" y1="476.6" x2="70" y2="476.6" stroke="#555" stroke-width="0.8"/>
<line x1="65.5" y1="494.1" x2="70" y2="494.1" stroke="#555" stroke-width="0.8"/>
<text x="65" y="497.4" font-family="Liberation Sans" font-size="7.4" fill="#2a2a2a" stroke="#2a2a2a" stroke-width="0.3" text-anchor="end">8%</text>
<line x1="67.5" y1="511.6" x2="70" y2="511.6" stroke="#555" stroke-width="0.8"/>
<line x1="65.5" y1="529.1" x2="70" y2="529.1" stroke="#555" stroke-width="0.8"/>
<text x="65" y="532.4" font-family="Liberation Sans" font-size="7.4" fill="#2a2a2a" stroke="#2a2a2a" stroke-width="0.3" text-anchor="end">4%</text>
<text x="73.3" y="456.7" font-family="Liberation Sans" font-size="8.5" font-weight="bold" font-style="italic" fill="#111" stroke="#111" stroke-width="0.15" textLength="25.4" lengthAdjust="spacingAndGlyphs">MNNG</text>
<text transform="translate(2.7,512.7) rotate(-90 41 -1.7)" x="0" y="0" font-family="Liberation Sans" font-size="5.0" fill="#3a3a3a" stroke="#3a3a3a" stroke-width="0.12" textLength="82" lengthAdjust="spacingAndGlyphs">SBS trinucleotide probability (%)</text>
<rect x="292.75" y="480" width="2.3" height="65" fill="#24ec24"/>
<rect x="296.15" y="505.4" width="2.3" height="39.6" fill="#24ec24"/>
<rect x="299.05" y="532" width="2.3" height="13" fill="#24ec24"/>
<rect x="302.05" y="514" width="2.3" height="31" fill="#24ec24"/>
<rect x="308.35" y="532" width="2.3" height="13" fill="#24ec24"/>
<rect x="317.85" y="490.7" width="2.3" height="54.3" fill="#24ec24"/>
<rect x="321.15" y="505.4" width="2.3" height="39.6" fill="#24ec24"/>
<rect x="324.15" y="517" width="2.3" height="28" fill="#24ec24"/>
<rect x="327.15" y="514.8" width="2.3" height="30.2" fill="#24ec24"/>
<rect x="333.65" y="532" width="2.3" height="13" fill="#24ec24"/>
<rect x="219.95" y="534.7" width="2.3" height="10.3" fill="#f41a1a"/>
<text x="502.6" y="455" font-family="Liberation Sans" font-size="8.5" font-weight="bold" font-style="italic" fill="#111" stroke="#111" stroke-width="0.15" textLength="48.2" lengthAdjust="spacingAndGlyphs">NNK acetate</text>
<rect x="608.55" y="531.8" width="2.3" height="13.2" fill="#f41a1a"/>
<rect x="611.05" y="535.5" width="2.3" height="9.5" fill="#f41a1a"/>
<rect x="663.55" y="527.6" width="2.3" height="17.4" fill="#c6c6c6"/>
<rect x="670.35" y="521.4" width="2.3" height="23.6" fill="#c6c6c6"/>
<rect x="673.45" y="535" width="2.3" height="10" fill="#c6c6c6"/>
<rect x="719.15" y="535" width="2.3" height="10" fill="#24ec24"/>
<rect x="774.15" y="527.6" width="2.3" height="17.4" fill="#eba2d8"/>
<rect x="777.65" y="531.8" width="2.3" height="13.2" fill="#eba2d8"/>
<rect x="784.25" y="529" width="2.3" height="16" fill="#eba2d8"/>
<rect x="831.9" y="464.7" width="10.8" height="5" fill="#22c4f6"/>
<text x="848.9" y="470.1" font-family="Liberation Sans" font-size="8.3" fill="#2a2a2a" stroke="#2a2a2a" stroke-width="0.25" textLength="21.6" lengthAdjust="spacingAndGlyphs">C &gt; A</text>
<rect x="831.9" y="478.5" width="10.8" height="5" fill="#111111"/>
<text x="848.9" y="483.9" font-family="Liberation Sans" font-size="8.3" fill="#2a2a2a" stroke="#2a2a2a" stroke-width="0.25" textLength="21.6" lengthAdjust="spacingAndGlyphs">C &gt; G</text>
<rect x="831.9" y="492.3" width="10.8" height="5" fill="#f41a1a"/>
<text x="848.9" y="497.7" font-family="Liberation Sans" font-size="8.3" fill="#2a2a2a" stroke="#2a2a2a" stroke-width="0.25" textLength="21.6" lengthAdjust="spacingAndGlyphs">C &gt; T</text>
<rect x="831.9" y="506.1" width="10.8" height="5" fill="#c6c6c6"/>
<text x="848.9" y="511.5" font-family="Liberation Sans" font-size="8.3" fill="#2a2a2a" stroke="#2a2a2a" stroke-width="0.25" textLength="21.6" lengthAdjust="spacingAndGlyphs">T &gt; A</text>
<rect x="831.9" y="519.9" width="10.8" height="5" fill="#24ec24"/>
<text x="848.9" y="525.3" font-family="Liberation Sans" font-size="8.3" fill="#2a2a2a" stroke="#2a2a2a" stroke-width="0.25" textLength="21.6" lengthAdjust="spacingAndGlyphs">T &gt; C</text>
<rect x="831.9" y="533.7" width="10.8" height="5" fill="#eba2d8"/>
<text x="848.9" y="539.1" font-family="Liberation Sans" font-size="8.3" fill="#2a2a2a" stroke="#2a2a2a" stroke-width="0.25" textLength="21.6" lengthAdjust="spacingAndGlyphs">T &gt; G</text>
</svg>
</body></html>
